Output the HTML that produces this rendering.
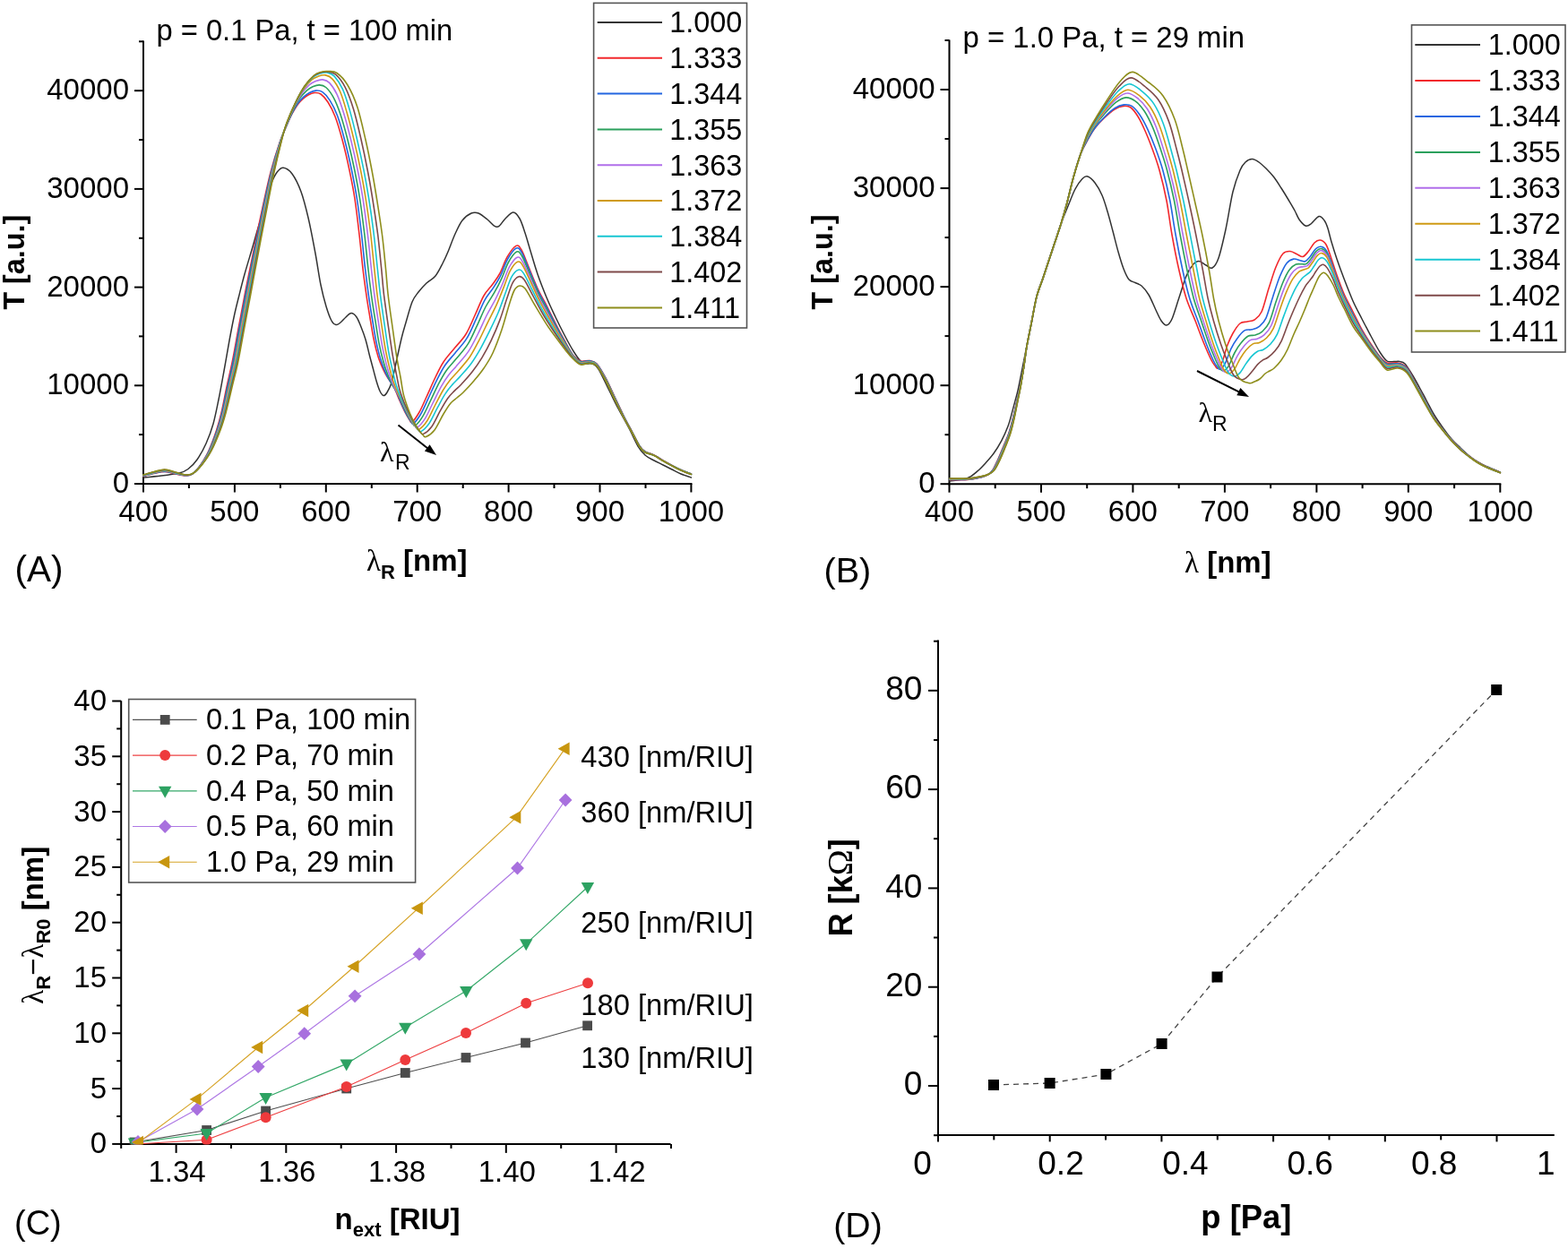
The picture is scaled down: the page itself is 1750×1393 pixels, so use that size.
<!DOCTYPE html>
<html><head><meta charset="utf-8"><title>Figure</title>
<style>html,body{margin:0;padding:0;background:#fff;}svg{display:block;}</style></head><body>
<svg width="1750" height="1393" viewBox="0 0 1750 1393">
<rect width="1750" height="1393" fill="#fff"/>
<g id="panelA">
<g stroke="#000" stroke-width="2" fill="none" stroke-linecap="butt">
<path d="M160,45.5 V541"/>
<path d="M159,540 H772.4"/>
<path d="M150,540 H160"/>
<path d="M155,485.1 H160"/>
<path d="M150,430.3 H160"/>
<path d="M155,375.4 H160"/>
<path d="M150,320.6 H160"/>
<path d="M155,265.8 H160"/>
<path d="M150,210.9 H160"/>
<path d="M155,156.1 H160"/>
<path d="M150,101.2 H160"/>
<path d="M155,46.3 H160"/>
<path d="M160,540 V549.5"/>
<path d="M210.9,540 V545"/>
<path d="M261.9,540 V549.5"/>
<path d="M312.9,540 V545"/>
<path d="M363.8,540 V549.5"/>
<path d="M414.8,540 V545"/>
<path d="M465.7,540 V549.5"/>
<path d="M516.7,540 V545"/>
<path d="M567.6,540 V549.5"/>
<path d="M618.5,540 V545"/>
<path d="M669.5,540 V549.5"/>
<path d="M720.5,540 V545"/>
<path d="M771.4,540 V549.5"/>
</g>
<text x="144" y="550" font-size="33" text-anchor="end" font-family='"Liberation Sans", Arial, sans-serif'>0</text>
<text x="144" y="440.3" font-size="33" text-anchor="end" font-family='"Liberation Sans", Arial, sans-serif'>10000</text>
<text x="144" y="330.6" font-size="33" text-anchor="end" font-family='"Liberation Sans", Arial, sans-serif'>20000</text>
<text x="144" y="220.9" font-size="33" text-anchor="end" font-family='"Liberation Sans", Arial, sans-serif'>30000</text>
<text x="144" y="111.2" font-size="33" text-anchor="end" font-family='"Liberation Sans", Arial, sans-serif'>40000</text>
<text x="160" y="582" font-size="33" text-anchor="middle" font-family='"Liberation Sans", Arial, sans-serif'>400</text>
<text x="261.9" y="582" font-size="33" text-anchor="middle" font-family='"Liberation Sans", Arial, sans-serif'>500</text>
<text x="363.8" y="582" font-size="33" text-anchor="middle" font-family='"Liberation Sans", Arial, sans-serif'>600</text>
<text x="465.7" y="582" font-size="33" text-anchor="middle" font-family='"Liberation Sans", Arial, sans-serif'>700</text>
<text x="567.6" y="582" font-size="33" text-anchor="middle" font-family='"Liberation Sans", Arial, sans-serif'>800</text>
<text x="669.5" y="582" font-size="33" text-anchor="middle" font-family='"Liberation Sans", Arial, sans-serif'>900</text>
<text x="771.4" y="582" font-size="33" text-anchor="middle" font-family='"Liberation Sans", Arial, sans-serif'>1000</text>
<g clip-path="none">
<path d="M160,533 C163.3,532.7 173.3,531.8 180,531 C186.7,530.2 195,529.2 200,528 C205,526.8 206.7,526 210,523.5 C213.3,521 216.7,517.8 220,513 C223.3,508.2 227,501.7 230,495 C233,488.3 235.7,481.2 238,473 C240.3,464.8 242,455.8 244,446 C246,436.2 248,425 250,414 C252,403 254.1,390.3 256,380 C257.9,369.7 259.7,360.3 261.5,352 C263.3,343.7 264.9,337.7 266.8,330 C268.7,322.3 270.5,314.9 273,306 C275.5,297.1 279.1,285.4 281.7,276.5 C284.3,267.6 286.3,259.9 288.6,252.4 C290.9,244.9 293.2,239.4 295.5,231.7 C297.8,224 300.1,212.6 302.4,206 C304.7,199.4 307,195.1 309.3,192 C311.6,188.9 313.4,186.9 316.2,187.2 C319,187.5 322.7,189.5 326,194 C329.3,198.5 333,205.8 336,214 C339,222.2 341.3,231.5 344,243 C346.7,254.5 349.7,270.5 352,283 C354.3,295.5 356,308.2 358,318 C360,327.8 362,335.3 364,342 C366,348.7 368.2,354.6 370,358 C371.8,361.4 373.3,362.2 375,362.5 C376.7,362.8 378.2,361.4 380,360 C381.8,358.6 384,355.8 386,354 C388,352.2 390,349.5 392,349.5 C394,349.5 396.2,351.4 398,354 C399.8,356.6 401.3,360.8 403,365 C404.7,369.2 406.5,374 408,379 C409.5,384 410.7,389.8 412,395 C413.3,400.2 414.7,405 416,410 C417.3,415 418.7,420.6 420,425 C421.3,429.4 422.7,433.8 424,436.5 C425.3,439.2 426.7,441.2 428,441.5 C429.3,441.8 430.5,440.4 432,438 C433.5,435.6 435.3,432.5 437,427 C438.7,421.5 440.2,413.2 442,405 C443.8,396.8 446.2,385.5 448,378 C449.8,370.5 451,366.8 453,360 C455,353.2 457.7,342.7 460,337 C462.3,331.3 464.3,329.5 467,326 C469.7,322.5 472.8,319 476,316 C479.2,313 483,311.7 486,308 C489,304.3 491.7,298.5 494,294 C496.3,289.5 497.7,286.5 500,281 C502.3,275.5 505.3,266.8 508,261 C510.7,255.2 513,249.8 516,246 C519,242.2 523,239.3 526,238 C529,236.7 531,236.8 534,238 C537,239.2 541,242.6 544,245 C547,247.4 549.8,251.2 552,252.4 C554.2,253.6 555,253.8 557,252.4 C559,251 561.3,246.6 564,244 C566.7,241.4 570.3,237 573,237 C575.7,237 577.8,240.2 580,244 C582.2,247.8 584,254 586,260 C588,266 589.7,272.3 592,280 C594.3,287.7 597,297.3 600,306 C603,314.7 606.7,324 610,332 C613.3,340 616.7,347 620,354 C623.3,361 626.7,367.7 630,374 C633.3,380.3 637,387.2 640,392 C643,396.8 645.5,400.7 648,403 C650.5,405.3 652.8,405.5 655,406 C657.2,406.5 658.8,405 661,406 C663.2,407 664.8,407 668,412 C671.2,417 676.3,428.7 680,436 C683.7,443.3 686.3,449 690,456 C693.7,463 698.3,471 702,478 C705.7,485 709,493 712,498 C715,503 717,505.3 720,508 C723,510.7 726.7,512.2 730,514 C733.3,515.8 736.7,517.3 740,519 C743.3,520.7 746.7,522.3 750,524 C753.3,525.7 756.4,527.5 760,529 C763.6,530.5 769.5,532.3 771.4,533" fill="none" stroke="#333333" stroke-width="1.5" stroke-linejoin="round" stroke-linecap="round"/>
<path d="M160,531.5 C162,531 168,529.3 172,528.5 C176,527.7 180,526.4 184,526.5 C188,526.6 192,528.2 196,529 C200,529.8 204.8,531.1 208,531 C211.2,530.9 212.8,530.7 215.5,528.5 C218.2,526.3 221.6,522.2 224.5,518 C227.4,513.8 230.1,509.3 233,503 C235.9,496.7 239.4,487 241.7,480 C244,473 245.1,469 247,461 C248.9,453 251,441.3 253,432 C255,422.7 256.9,415.3 259,405 C261.1,394.7 263.2,382.5 265.5,370 C267.8,357.5 270.8,341.7 273,330 C275.2,318.3 276.9,310.3 279,300 C281.1,289.7 283.2,279.3 285.5,268 C287.8,256.7 290.2,244.6 293,232 C295.8,219.4 298.8,204.6 302,192.5 C305.2,180.4 309,168.2 312,159.5 C315,150.8 317.7,145.4 320,140 C322.3,134.6 324,130.8 326,127 C328,123.2 330,119.8 332,117 C334,114.2 336,112.3 338,110.5 C340,108.7 341.8,107.2 344,106 C346.2,104.8 348.7,103.7 351,103.5 C353.3,103.3 355.5,103.2 358,105 C360.5,106.8 363.3,109.8 366,114 C368.7,118.2 371.3,123 374,130 C376.7,137 379.3,146 382,156 C384.7,166 387.7,179 390,190 C392.3,201 394.2,210 396,222 C397.8,234 399.5,249 401,262 C402.5,275 403.7,288.7 405,300 C406.3,311.3 407.7,320.8 409,330 C410.3,339.2 411.7,347 413,355 C414.3,363 415.5,370.8 417,378 C418.5,385.2 420.2,392.2 422,398 C423.8,403.8 426.2,409 428,413 C429.8,417 431,418.7 433,422 C435,425.3 437.8,428.8 440,433 C442.2,437.2 444,442.5 446,447 C448,451.5 450.2,456.4 452,460 C453.8,463.6 455.7,466.7 457,468.5 C458.3,470.3 458.2,472.4 460,471 C461.8,469.6 465.3,464.7 468,460 C470.7,455.3 473,449.5 476,443 C479,436.5 482.8,427.5 486,421 C489.2,414.5 491.5,409.3 495,404 C498.5,398.7 502.8,394.2 507,389 C511.2,383.8 516.2,379.2 520,373 C523.8,366.8 526.7,359.2 530,352 C533.3,344.8 536.7,335.8 540,330 C543.3,324.2 547,321.2 550,317 C553,312.8 555.3,310 558,305 C560.7,300 563,292.1 566,287 C569,281.9 573.3,275.7 576,274.4 C578.7,273.1 579.7,275.1 582,279 C584.3,282.9 587,290.8 590,298 C593,305.2 596.7,314.8 600,322 C603.3,329.2 606.7,334.5 610,341 C613.3,347.5 616.7,354.5 620,361 C623.3,367.5 626.7,374 630,380 C633.3,386 637,393.2 640,397 C643,400.8 645,402.1 648,403 C651,403.9 655,402 658,402.5 C661,403 663,402.8 666,406 C669,409.2 672.7,415.8 676,422 C679.3,428.2 682.7,436 686,443 C689.3,450 692.7,457.3 696,464 C699.3,470.7 703,477.3 706,483 C709,488.7 711.7,494.5 714,498 C716.3,501.5 717.3,502.3 720,504 C722.7,505.7 726.7,506.3 730,508 C733.3,509.7 736.7,512.1 740,514 C743.3,515.9 746.7,517.8 750,519.5 C753.3,521.2 756.4,522.9 760,524.5 C763.6,526.1 769.5,528.2 771.4,529" fill="none" stroke="#F2282C" stroke-width="1.6" stroke-linejoin="round" stroke-linecap="round"/>
<path d="M160,531.3 C162,530.8 168,529.1 172,528.2 C176,527.4 180,526.1 184,526.1 C188,526.2 192,527.9 196,528.7 C200,529.5 204.7,530.9 208,530.9 C211.3,530.8 212.8,530.6 215.6,528.4 C218.4,526.3 221.7,522.2 224.7,518 C227.7,513.8 230.5,509.3 233.4,503 C236.4,496.7 239.9,487 242.3,480 C244.7,473 245.8,469 247.7,461 C249.6,453 251.8,441.3 253.9,432 C255.9,422.7 257.8,415.3 259.9,405 C262,394.7 264.1,382.5 266.4,370 C268.8,357.5 271.7,341.7 273.9,330 C276.2,318.3 277.8,310.3 279.9,300 C281.9,289.7 284,279.3 286.3,268 C288.6,256.7 291,244.6 293.7,232 C296.4,219.4 299.5,204.5 302.6,192.4 C305.7,180.3 309.4,168.1 312.3,159.3 C315.2,150.5 317.6,145.2 320,139.6 C322.4,134 324.3,129.8 326.4,125.7 C328.5,121.6 330.7,117.9 332.8,114.9 C334.9,111.9 337.1,109.8 339.2,107.9 C341.3,106 343.2,104.6 345.4,103.5 C347.6,102.3 350.1,101.2 352.5,101.1 C354.9,101 357.2,100.8 359.8,102.7 C362.4,104.5 365.4,107.7 368.2,112.1 C371,116.5 373.8,121.7 376.5,129 C379.2,136.3 381.9,145.8 384.6,156 C387.3,166.2 390.2,179 392.5,190 C394.8,201 396.6,210 398.4,222 C400.3,234 402,249 403.6,262 C405.1,275 406.2,288.7 407.6,300 C408.9,311.3 410.1,320.5 411.4,329.8 C412.7,339.1 414.1,347.6 415.5,356 C416.9,364.4 418.1,372.8 419.6,380.2 C421.1,387.6 422.7,394.4 424.5,400.3 C426.3,406.2 428.4,411.4 430.2,415.6 C432,419.8 433.2,421.8 435.2,425.3 C437.2,428.8 439.9,432.3 442,436.4 C444.1,440.5 446.1,445.8 448,450.1 C449.9,454.4 451.9,458.9 453.7,462.2 C455.4,465.5 457.2,468.5 458.5,470.2 C459.8,471.9 459.7,474 461.6,472.6 C463.4,471.3 467,466.6 469.7,462 C472.4,457.4 474.9,451.2 477.9,444.9 C480.9,438.5 484.6,430 487.7,423.9 C490.8,417.8 493.1,413 496.5,408 C499.9,403 503.9,398.9 508,393.9 C512.1,388.9 517,384 520.8,377.9 C524.7,371.8 527.6,364.3 530.9,357.2 C534.2,350.1 537.5,341.4 540.8,335.3 C544.1,329.3 547.8,325.6 550.8,320.9 C553.8,316.3 556.1,312.8 558.7,307.6 C561.3,302.3 563.6,294.5 566.5,289.4 C569.4,284.3 573.6,278.3 576.2,277.1 C578.9,275.8 579.9,277.9 582.3,281.9 C584.6,285.9 587.4,294 590.5,301.1 C593.5,308.2 597.1,317.6 600.4,324.6 C603.7,331.7 606.9,336.9 610.2,343.2 C613.4,349.5 616.7,356.1 620,362.5 C623.3,368.8 626.9,375.4 630.2,381.3 C633.5,387.1 637,393.7 640,397.4 C643,401.2 645,402.6 648,403.5 C651,404.4 655,402.4 658,402.9 C661,403.4 663,403.1 666,406.4 C669,409.6 672.7,416.2 676,422.4 C679.3,428.6 682.7,436.5 686,443.4 C689.3,450.4 692.7,457.7 696,464.3 C699.3,470.9 703,477.5 706,483.1 C709,488.8 711.7,494.6 714,498.1 C716.3,501.6 717.3,502.5 720,504.1 C722.7,505.8 726.7,506.4 730,508.1 C733.3,509.7 736.7,512.2 740,514.1 C743.3,516 746.7,517.8 750,519.6 C753.3,521.3 756.4,523 760,524.6 C763.6,526.2 769.5,528.3 771.4,529.1" fill="none" stroke="#2266E0" stroke-width="1.6" stroke-linejoin="round" stroke-linecap="round"/>
<path d="M160,531.1 C162,530.5 168,528.8 172,527.9 C176,527 180,525.7 184,525.8 C188,525.9 192,527.6 196,528.4 C200,529.2 204.7,530.7 208,530.7 C211.3,530.7 212.8,530.5 215.6,528.4 C218.5,526.2 221.9,522.2 224.9,518 C228,513.8 230.9,509.3 233.9,503 C236.9,496.7 240.5,487 242.9,480 C245.4,473 246.5,469 248.4,461 C250.4,453 252.6,441.3 254.7,432 C256.8,422.7 258.8,415.3 260.9,405 C263,394.7 265,382.5 267.4,370 C269.7,357.5 272.6,341.7 274.9,330 C277.1,318.3 278.7,310.3 280.7,300 C282.8,289.7 284.8,279.3 287.1,268 C289.4,256.7 291.8,244.6 294.4,232 C297.1,219.4 300.1,204.5 303.1,192.4 C306.2,180.2 309.8,167.9 312.6,159.1 C315.4,150.2 317.5,145.3 320,139.1 C322.5,133 325,127.3 327.4,122.3 C329.9,117.4 332.4,113 334.9,109.4 C337.4,105.9 340,103.2 342.3,101.1 C344.7,99 346.7,97.9 349,96.8 C351.4,95.8 353.9,94.8 356.4,94.9 C358.9,95 361.1,95.2 363.7,97.5 C366.4,99.8 369.4,103.7 372.1,108.7 C374.8,113.7 377.3,119.8 379.9,127.6 C382.6,135.5 385.3,145.6 388,156 C390.6,166.4 393.5,179 395.8,190 C398,201 399.8,210 401.6,222 C403.5,234 405.3,249 406.9,262 C408.4,275 409.6,288.7 410.9,300 C412.1,311.3 413.2,320 414.5,329.5 C415.8,339.1 417.3,348.4 418.8,357.3 C420.2,366.2 421.5,375.4 423,383.1 C424.5,390.7 426.1,397.3 427.8,403.3 C429.4,409.3 431.3,414.6 433.1,419 C434.8,423.4 436.1,425.9 438.1,429.6 C440,433.2 442.5,436.7 444.6,440.8 C446.7,444.9 448.7,450.1 450.6,454.1 C452.5,458.2 454.3,462 455.9,465.1 C457.6,468.1 459.2,470.8 460.4,472.4 C461.7,474 461.7,476.1 463.6,474.8 C465.5,473.5 469.1,469.2 471.9,464.6 C474.7,460 477.4,453.5 480.4,447.4 C483.4,441.2 486.9,433.4 489.9,427.7 C492.9,422 495.2,417.8 498.4,413.2 C501.7,408.6 505.4,405.1 509.3,400.3 C513.2,395.5 518.2,390.4 522,384.4 C525.8,378.4 528.7,371.2 532.1,364.2 C535.4,357.2 538.7,348.8 542,342.5 C545.3,336.2 548.9,331.6 551.8,326.4 C554.8,321.2 557.2,316.8 559.7,311.2 C562.3,305.7 564.5,298 567.3,293 C570.1,288 574,282.3 576.6,281.1 C579.2,279.9 580.2,282 582.6,286 C585.1,290 588,298.2 591,305.2 C594.1,312.2 597.7,321.2 600.9,328 C604.2,334.8 607.2,339.8 610.4,345.8 C613.6,351.8 616.7,358 620,364.2 C623.3,370.3 627.1,377.1 630.5,382.7 C633.8,388.3 637.1,394.4 640,397.9 C642.9,401.5 645,403.1 648,404 C651,404.9 655,402.9 658,403.4 C661,403.8 663,403.5 666,406.7 C669,410 672.7,416.7 676,422.9 C679.3,429 682.7,436.9 686,443.9 C689.3,450.8 692.7,458 696,464.6 C699.3,471.1 703,477.7 706,483.3 C709,488.9 711.7,494.8 714,498.3 C716.3,501.8 717.3,502.6 720,504.3 C722.7,505.9 726.7,506.5 730,508.1 C733.3,509.8 736.7,512.2 740,514.1 C743.3,516.1 746.7,517.9 750,519.6 C753.3,521.4 756.4,523.1 760,524.6 C763.6,526.2 769.5,528.4 771.4,529.1" fill="none" stroke="#2BA05C" stroke-width="1.6" stroke-linejoin="round" stroke-linecap="round"/>
<path d="M160,530.9 C162,530.3 168,528.5 172,527.6 C176,526.7 180,525.3 184,525.4 C188,525.5 192,527.3 196,528.1 C200,529 204.7,530.5 208,530.6 C211.3,530.6 212.9,530.4 215.7,528.3 C218.6,526.2 222,522.2 225.1,518 C228.2,513.8 231.2,509.3 234.3,503 C237.4,496.7 241.1,487 243.5,480 C246,473 247.1,469 249.1,461 C251.1,453 253.5,441.3 255.6,432 C257.7,422.7 259.7,415.3 261.8,405 C263.9,394.7 266,382.5 268.3,370 C270.6,357.5 273.6,341.7 275.8,330 C278,318.3 279.6,310.3 281.6,300 C283.6,289.7 285.6,279.3 287.9,268 C290.1,256.7 292.5,244.6 295.1,232 C297.8,219.4 300.8,204.5 303.7,192.3 C306.7,180.1 310.1,167.8 312.9,158.9 C315.6,149.9 317.4,145.3 320,138.7 C322.6,132.1 325.6,124.8 328.4,119.1 C331.3,113.3 334.1,108.3 336.9,104.2 C339.7,100.1 342.7,96.9 345.3,94.6 C347.9,92.3 350.1,91.4 352.5,90.4 C355,89.5 357.6,88.6 360.1,88.9 C362.7,89.3 365,89.7 367.6,92.4 C370.3,95.2 373.4,99.7 376.1,105.3 C378.7,110.9 381,117.7 383.6,126.2 C386.2,134.6 389,145.4 391.6,156 C394.2,166.6 397,179 399.2,190 C401.5,201 403.2,210 405.1,222 C406.9,234 408.9,249 410.4,262 C412,275 413.2,288.8 414.4,300 C415.7,311.2 416.6,319.5 417.9,329.3 C419.2,339 420.8,349.2 422.2,358.7 C423.7,368.2 425.1,378.2 426.6,386.1 C428.1,394.1 429.7,400.4 431.2,406.5 C432.8,412.6 434.5,418 436.1,422.6 C437.8,427.2 439.3,430.4 441.1,434.2 C443,438 445.4,441.5 447.4,445.6 C449.4,449.6 451.6,454.7 453.4,458.5 C455.2,462.2 456.8,465.4 458.3,468.1 C459.8,470.9 461.3,473.3 462.6,474.8 C463.8,476.3 463.8,478.3 465.7,477.1 C467.7,475.9 471.4,471.9 474.3,467.4 C477.2,462.9 480,456 483,450 C486,444.1 489.4,436.9 492.3,431.7 C495.2,426.5 497.5,422.9 500.6,418.8 C503.6,414.7 506.9,411.7 510.7,407.1 C514.5,402.6 519.4,397.4 523.2,391.6 C527,385.9 530.1,379.2 533.5,372.5 C536.8,365.8 540.1,358 543.4,351.5 C546.7,345 550.3,339.4 553.2,333.5 C556.2,327.7 558.6,322.2 561.1,316.3 C563.7,310.4 565.7,303 568.4,298.2 C571.1,293.3 574.7,288.4 577.2,287.3 C579.6,286.3 580.8,288 583.2,292 C585.7,295.9 588.8,304.1 591.9,310.8 C594.9,317.5 598.5,326 601.6,332.4 C604.8,338.7 607.6,343.4 610.7,349 C613.7,354.7 616.7,360.3 620,366.2 C623.3,372.1 627.4,378.9 630.7,384.3 C634,389.7 637.1,395.1 640,398.5 C642.9,401.8 645,403.6 648,404.5 C651,405.4 655,403.4 658,403.8 C661,404.2 663,403.8 666,407.1 C669,410.3 672.7,417.1 676,423.3 C679.3,429.5 682.7,437.4 686,444.3 C689.3,451.2 692.7,458.3 696,464.9 C699.3,471.4 703,477.8 706,483.4 C709,489 711.7,494.9 714,498.4 C716.3,501.9 717.3,502.8 720,504.4 C722.7,506.1 726.7,506.6 730,508.2 C733.3,509.8 736.7,512.3 740,514.2 C743.3,516.1 746.7,518 750,519.7 C753.3,521.5 756.4,523.1 760,524.7 C763.6,526.3 769.5,528.5 771.4,529.2" fill="none" stroke="#B06EEA" stroke-width="1.6" stroke-linejoin="round" stroke-linecap="round"/>
<path d="M160,530.6 C162,530.1 168,528.3 172,527.4 C176,526.4 180,525 184,525.1 C188,525.2 192,527 196,527.9 C200,528.8 204.7,530.4 208,530.4 C211.3,530.5 212.9,530.3 215.8,528.2 C218.7,526.1 222.2,522.2 225.4,518 C228.5,513.8 231.6,509.3 234.7,503 C237.8,496.7 241.6,487 244.2,480 C246.7,473 247.8,469 249.9,461 C251.9,453 254.3,441.3 256.4,432 C258.6,422.7 260.6,415.3 262.7,405 C264.8,394.7 266.9,382.5 269.2,370 C271.5,357.5 274.5,341.7 276.7,330 C278.9,318.3 280.4,310.3 282.4,300 C284.4,289.7 286.4,279.3 288.6,268 C290.9,256.7 293.2,244.6 295.9,232 C298.5,219.4 301.4,204.4 304.3,192.2 C307.2,180 310.5,167.6 313.1,158.6 C315.8,149.7 317.3,145.3 320,138.3 C322.7,131.2 326.2,122.8 329.3,116.3 C332.4,109.9 335.5,104.3 338.6,99.8 C341.7,95.3 345,91.6 347.8,89.2 C350.7,86.7 352.9,86 355.5,85.1 C358.1,84.2 360.7,83.4 363.3,83.9 C365.9,84.4 368.2,85 370.9,88.1 C373.7,91.2 376.9,96.1 379.6,102.3 C382.3,108.4 384.4,115.9 386.9,124.8 C389.5,133.8 392.4,145.1 395,156 C397.6,166.9 400.3,179 402.5,190 C404.7,201 406.4,210 408.2,222 C410.1,234 412.2,249 413.8,262 C415.3,275 416.5,288.8 417.8,300 C419,311.2 419.7,319 421,329 C422.3,339 424,350 425.5,360 C427,370 428.5,380.8 430,389 C431.5,397.2 433,403.3 434.5,409.5 C436,415.7 437.4,421.2 439,426 C440.6,430.8 442.2,434.5 444,438.5 C445.8,442.5 448,446 450,450 C452,454 454.2,459 456,462.5 C457.8,466 459.1,468.6 460.5,471 C461.9,473.4 463.3,475.6 464.5,477 C465.7,478.4 465.8,480.4 467.8,479.2 C469.8,478.1 473.5,474.5 476.5,470 C479.5,465.5 482.5,458.2 485.5,452.5 C488.5,446.8 491.7,440.2 494.5,435.5 C497.3,430.8 499.6,427.7 502.5,424 C505.4,420.3 508.4,417.8 512,413.5 C515.6,409.2 520.6,403.9 524.4,398.3 C528.2,392.6 531.3,386.3 534.7,379.8 C538.1,373.3 541.3,366 544.6,359.3 C547.9,352.6 551.5,346.1 554.4,339.6 C557.4,333.1 559.8,326.6 562.3,320.4 C564.8,314.2 566.8,307 569.3,302.3 C571.9,297.6 575.2,293.2 577.6,292.2 C580,291.3 581.2,292.9 583.6,296.7 C586.1,300.6 589.5,308.9 592.5,315.4 C595.6,322 599.1,329.9 602.2,336 C605.2,342.1 607.9,346.5 610.9,351.8 C613.9,357.1 616.7,362.3 620,367.9 C623.3,373.6 627.6,380.5 631,385.7 C634.3,390.9 637.2,395.7 640,398.9 C642.8,402.2 645,404.1 648,405 C651,405.9 655,403.8 658,404.2 C661,404.6 663,404.2 666,407.4 C669,410.7 672.7,417.5 676,423.7 C679.3,429.9 682.7,437.8 686,444.7 C689.3,451.6 692.7,458.7 696,465.1 C699.3,471.6 703,478 706,483.6 C709,489.1 711.7,495.1 714,498.6 C716.3,502.1 717.3,503 720,504.6 C722.7,506.2 726.7,506.7 730,508.3 C733.3,509.9 736.7,512.4 740,514.3 C743.3,516.2 746.7,518 750,519.8 C753.3,521.5 756.4,523.2 760,524.8 C763.6,526.4 769.5,528.5 771.4,529.3" fill="none" stroke="#CF9A14" stroke-width="1.6" stroke-linejoin="round" stroke-linecap="round"/>
<path d="M160,530.4 C162,529.9 168,528 172,527.1 C176,526.1 180,524.6 184,524.7 C188,524.8 192,526.6 196,527.6 C200,528.5 204.7,530.2 208,530.3 C211.3,530.4 212.9,530.2 215.9,528.1 C218.8,526.1 222.4,522.2 225.6,518 C228.8,513.8 231.9,509.3 235.1,503 C238.3,496.7 242.2,487 244.8,480 C247.3,473 248.5,469 250.6,461 C252.7,453 255.1,441.3 257.3,432 C259.5,422.7 261.5,415.3 263.6,405 C265.8,394.7 267.8,382.5 270.1,370 C272.5,357.5 275.5,341.7 277.6,330 C279.8,318.3 281.3,310.3 283.3,300 C285.2,289.7 287.2,279.3 289.4,268 C291.6,256.7 294,244.6 296.6,232 C299.1,219.4 302,204.4 304.9,192.1 C307.7,179.9 310.9,167.5 313.4,158.4 C316,149.4 317.3,145.1 320,137.9 C322.7,130.6 326.5,121.5 329.8,114.8 C333,108 336.3,102 339.5,97.3 C342.8,92.5 346.3,88.6 349.3,86.1 C352.2,83.5 354.5,82.9 357.2,82 C359.8,81.2 362.4,80.5 365.1,81 C367.8,81.6 370.3,82 373.2,85.1 C376.1,88.3 379.6,93.4 382.5,99.7 C385.4,106.1 387.7,114.1 390.4,123.4 C393.1,132.8 396,144.9 398.6,156 C401.2,167.1 403.8,179 406,190 C408.2,201 409.8,210 411.7,222 C413.6,234 415.7,249 417.3,262 C418.9,275 420.1,288.9 421.3,300 C422.5,311.1 423.1,318.5 424.4,328.7 C425.6,339 427.5,350.8 429,361.4 C430.5,372 432.1,383.5 433.6,392.1 C435.1,400.6 436.6,406.5 438,412.7 C439.4,419 440.6,424.6 442.1,429.6 C443.6,434.7 445.3,438.9 447.1,443.1 C448.9,447.3 450.8,450.8 452.8,454.8 C454.8,458.7 457.1,463.6 458.8,466.8 C460.5,470.1 461.6,472 462.9,474.1 C464.2,476.2 465.4,478.1 466.6,479.4 C467.8,480.6 467.9,482.7 469.9,481.6 C472,480.5 475.8,477.2 478.9,472.8 C481.9,468.4 485.2,460.7 488.2,455.2 C491.2,449.6 494.1,443.8 496.9,439.6 C499.6,435.3 501.8,432.8 504.6,429.6 C507.4,426.4 509.9,424.3 513.4,420.4 C516.9,416.4 521.9,411.2 525.7,406 C529.5,400.8 532.9,395.1 536.3,389.1 C539.7,383.1 542.9,376.6 546.2,369.9 C549.5,363.1 553.2,355.6 556.2,348.5 C559.2,341.3 561.7,333.5 564.1,327 C566.6,320.5 568.5,313.7 570.8,309.4 C573.2,305.1 576.1,301.9 578.4,301.2 C580.7,300.4 581.9,301.4 584.4,305.1 C587,308.8 590.6,317.1 593.7,323.2 C596.8,329.3 600.2,336.4 603.1,341.9 C606,347.4 608.4,351.3 611.3,356.1 C614.1,360.9 616.7,365.3 620,370.6 C623.3,375.8 628,382.9 631.3,387.7 C634.6,392.6 637.2,396.6 640,399.6 C642.8,402.6 645,404.8 648,405.6 C651,406.5 655,404.3 658,404.6 C661,405 663,404.5 666,407.8 C669,411 672.7,417.9 676,424.1 C679.3,430.4 682.7,438.3 686,445.1 C689.3,452 692.7,459 696,465.4 C699.3,471.9 703,478.2 706,483.7 C709,489.3 711.7,495.2 714,498.7 C716.3,502.2 717.3,503.1 720,504.7 C722.7,506.3 726.7,506.8 730,508.4 C733.3,510 736.7,512.4 740,514.4 C743.3,516.3 746.7,518.1 750,519.9 C753.3,521.6 756.4,523.3 760,524.9 C763.6,526.4 769.5,528.6 771.4,529.4" fill="none" stroke="#18C6D2" stroke-width="1.6" stroke-linejoin="round" stroke-linecap="round"/>
<path d="M160,530.2 C162,529.6 168,527.8 172,526.8 C176,525.8 180,524.3 184,524.4 C188,524.4 192,526.3 196,527.3 C200,528.2 204.7,530 208,530.1 C211.3,530.3 213,530.1 215.9,528.1 C218.9,526 222.5,522.2 225.8,518 C229.1,513.8 232.3,509.3 235.6,503 C238.8,496.7 242.8,487 245.4,480 C248,473 249.2,469 251.3,461 C253.4,453 255.9,441.3 258.1,432 C260.4,422.7 262.4,415.3 264.6,405 C266.7,394.7 268.7,382.5 271.1,370 C273.4,357.5 276.4,341.7 278.6,330 C280.8,318.3 282.2,310.3 284.1,300 C286.1,289.7 288,279.3 290.2,268 C292.4,256.7 294.8,244.7 297.3,232 C299.8,219.3 302.7,204.4 305.4,192.1 C308.2,179.8 311.3,167.3 313.7,158.2 C316.1,149.1 317.3,144.8 320,137.4 C322.7,130.1 326.6,121.1 329.9,114.3 C333.2,107.4 336.5,101.3 339.8,96.4 C343.1,91.5 346.8,87.6 349.8,85 C352.7,82.5 355.1,81.8 357.7,81 C360.4,80.2 362.9,79.7 365.7,80.1 C368.5,80.4 371.4,80.3 374.7,83.2 C377.9,86.1 381.9,91 385.2,97.4 C388.5,103.8 391.5,112 394.5,121.8 C397.5,131.6 400.4,144.6 403.1,156 C405.7,167.4 408.1,179 410.2,190 C412.4,201 413.9,210 415.8,222 C417.7,234 420,249 421.7,262 C423.3,275 424.5,288.9 425.7,300 C426.8,311.1 427.2,317.9 428.4,328.4 C429.7,338.9 431.6,351.9 433.2,363.1 C434.9,374.3 436.6,386.9 438.1,395.8 C439.6,404.7 441,410.3 442.2,416.6 C443.5,423 444.4,428.7 445.8,434.1 C447.2,439.4 449.1,444.3 450.8,448.7 C452.6,453.1 454.3,456.6 456.2,460.5 C458.1,464.4 460.6,469.2 462.2,472.1 C463.8,475 464.6,476.1 465.8,477.8 C466.9,479.5 468,481.2 469.1,482.3 C470.3,483.4 470.5,485.4 472.6,484.4 C474.7,483.4 478.6,480.5 481.8,476.2 C484.9,471.9 488.4,463.7 491.4,458.4 C494.4,453.1 497.1,448.2 499.8,444.5 C502.4,440.8 504.6,439 507.1,436.4 C509.7,433.8 511.8,432.3 515.1,428.7 C518.4,425.1 523.4,419.8 527.2,414.8 C531.1,409.9 534.5,404.8 538,399.1 C541.4,393.4 544.6,387.7 547.9,380.7 C551.2,373.7 554.9,365.1 557.9,357.1 C560.9,349.2 563.4,340 565.8,333.1 C568.2,326.2 570,319.8 572.2,315.7 C574.4,311.6 576.9,309.3 579.1,308.7 C581.2,308.2 582.5,308.7 585.1,312.3 C587.7,315.8 591.5,324.1 594.7,329.9 C597.8,335.7 601.1,342 603.9,347 C606.7,352 608.9,355.5 611.6,359.8 C614.3,364.1 616.7,367.9 620,372.8 C623.3,377.8 628.3,385 631.6,389.5 C634.9,394.1 637.3,397.4 640,400.2 C642.7,403 645,405.4 648,406.2 C651,407 655,404.7 658,405.1 C661,405.4 663,404.9 666,408.1 C669,411.4 672.7,418.3 676,424.6 C679.3,430.8 682.7,438.7 686,445.6 C689.3,452.4 692.7,459.3 696,465.7 C699.3,472.1 703,478.3 706,483.9 C709,489.4 711.7,495.4 714,498.9 C716.3,502.4 717.3,503.3 720,504.9 C722.7,506.5 726.7,506.8 730,508.4 C733.3,510 736.7,512.5 740,514.4 C743.3,516.3 746.7,518.2 750,519.9 C753.3,521.7 756.4,523.3 760,524.9 C763.6,526.5 769.5,528.7 771.4,529.4" fill="none" stroke="#7F4A4A" stroke-width="1.6" stroke-linejoin="round" stroke-linecap="round"/>
<path d="M160,530 C162,529.4 168,527.5 172,526.5 C176,525.5 180,523.9 184,524 C188,524.1 192,526 196,527 C200,528 204.7,529.8 208,530 C211.3,530.2 213,530 216,528 C219,526 222.7,522.2 226,518 C229.3,513.8 232.7,509.3 236,503 C239.3,496.7 243.3,487 246,480 C248.7,473 249.8,469 252,461 C254.2,453 256.8,441.3 259,432 C261.2,422.7 263.3,415.3 265.5,405 C267.7,394.7 269.7,382.5 272,370 C274.3,357.5 277.3,341.7 279.5,330 C281.7,318.3 283.1,310.3 285,300 C286.9,289.7 288.8,279.3 291,268 C293.2,256.7 295.5,244.7 298,232 C300.5,219.3 303.3,204.3 306,192 C308.7,179.7 311.7,167.2 314,158 C316.3,148.8 317.3,144.3 320,137 C322.7,129.7 326.7,120.8 330,114 C333.3,107.2 336.7,100.9 340,96 C343.3,91.1 347,87.1 350,84.5 C353,81.9 355.3,81.3 358,80.5 C360.7,79.7 363,79.4 366,79.6 C369,79.8 372.3,78.9 376,81.5 C379.7,84.1 384.2,88.6 388,95 C391.8,101.4 395.7,109.8 399,120 C402.3,130.2 405.3,144.3 408,156 C410.7,167.7 412.9,179 415,190 C417.1,201 418.6,210 420.5,222 C422.4,234 424.8,249 426.5,262 C428.2,275 429.4,289 430.5,300 C431.6,311 431.8,317.2 433,328 C434.2,338.8 436.3,353 438,365 C439.7,377 441.5,390.7 443,400 C444.5,409.3 445.8,414.5 447,421 C448.2,427.5 448.7,433.3 450,439 C451.3,444.7 453.3,450.3 455,455 C456.7,459.7 458.2,463.2 460,467 C461.8,470.8 464.5,475.5 466,478 C467.5,480.5 468,480.8 469,482 C470,483.2 470.9,484.6 472,485.5 C473.1,486.4 473.3,488.4 475.5,487.5 C477.7,486.6 481.8,484.2 485,480 C488.2,475.8 492,467 495,462 C498,457 500.5,453 503,450 C505.5,447 507.7,446 510,444 C512.3,442 513.8,441.2 517,438 C520.2,434.8 525.2,429.5 529,425 C532.8,420.5 536.5,416.2 540,411 C543.5,405.8 546.7,401.2 550,394 C553.3,386.8 557,376.8 560,368 C563,359.2 565.7,348.3 568,341 C570.3,333.7 572,327.7 574,324 C576,320.3 578,319.3 580,319 C582,318.7 583.3,318.7 586,322 C588.7,325.3 592.8,333.7 596,339 C599.2,344.3 602.3,349.7 605,354 C607.7,358.3 609.5,361.3 612,365 C614.5,368.7 616.7,371.5 620,376 C623.3,380.5 628.7,387.8 632,392 C635.3,396.2 637.3,398.5 640,401 C642.7,403.5 645,406.2 648,407 C651,407.8 655,405.2 658,405.5 C661,405.8 663,405.2 666,408.5 C669,411.8 672.7,418.8 676,425 C679.3,431.2 682.7,439.2 686,446 C689.3,452.8 692.7,459.7 696,466 C699.3,472.3 703,478.5 706,484 C709,489.5 711.7,495.5 714,499 C716.3,502.5 717.3,503.4 720,505 C722.7,506.6 726.7,506.9 730,508.5 C733.3,510.1 736.7,512.6 740,514.5 C743.3,516.4 746.7,518.2 750,520 C753.3,521.8 756.4,523.4 760,525 C763.6,526.6 769.5,528.8 771.4,529.5" fill="none" stroke="#8E8E1C" stroke-width="1.6" stroke-linejoin="round" stroke-linecap="round"/>
</g>
<rect x="662.6" y="3.4" width="170.9" height="362.6" fill="#fff" stroke="#555" stroke-width="1.6"/>
<path d="M666.7,25 H739" stroke="#333333" stroke-width="2"/>
<text x="747.3" y="36.4" font-size="32.4" text-anchor="start" font-family='"Liberation Sans", Arial, sans-serif'>1.000</text>
<path d="M666.7,64.8 H739" stroke="#F2282C" stroke-width="2"/>
<text x="747.3" y="76.2" font-size="32.4" text-anchor="start" font-family='"Liberation Sans", Arial, sans-serif'>1.333</text>
<path d="M666.7,104.6 H739" stroke="#2266E0" stroke-width="2"/>
<text x="747.3" y="116" font-size="32.4" text-anchor="start" font-family='"Liberation Sans", Arial, sans-serif'>1.344</text>
<path d="M666.7,144.4 H739" stroke="#2BA05C" stroke-width="2"/>
<text x="747.3" y="155.8" font-size="32.4" text-anchor="start" font-family='"Liberation Sans", Arial, sans-serif'>1.355</text>
<path d="M666.7,184.2 H739" stroke="#B06EEA" stroke-width="2"/>
<text x="747.3" y="195.6" font-size="32.4" text-anchor="start" font-family='"Liberation Sans", Arial, sans-serif'>1.363</text>
<path d="M666.7,224 H739" stroke="#CF9A14" stroke-width="2"/>
<text x="747.3" y="235.4" font-size="32.4" text-anchor="start" font-family='"Liberation Sans", Arial, sans-serif'>1.372</text>
<path d="M666.7,263.8 H739" stroke="#18C6D2" stroke-width="2"/>
<text x="747.3" y="275.2" font-size="32.4" text-anchor="start" font-family='"Liberation Sans", Arial, sans-serif'>1.384</text>
<path d="M666.7,303.6 H739" stroke="#7F4A4A" stroke-width="2"/>
<text x="747.3" y="315" font-size="32.4" text-anchor="start" font-family='"Liberation Sans", Arial, sans-serif'>1.402</text>
<path d="M666.7,343.4 H739" stroke="#8E8E1C" stroke-width="2"/>
<text x="747.3" y="354.8" font-size="32.4" text-anchor="start" font-family='"Liberation Sans", Arial, sans-serif'>1.411</text>
<text x="174.5" y="45.4" font-size="32.7" text-anchor="start" font-family='"Liberation Sans", Arial, sans-serif'>p = 0.1 Pa, t = 100 min</text>
<path d="M444.5,474.5 L478.4,501.2" stroke="#000" stroke-width="2"/>
<path d="M487,508 L473.9,503.6 L479.6,496.3 Z" fill="#000"/>
<text x="424" y="515" font-size="32" font-family='"Liberation Serif", "Times New Roman", serif'>&#955;<tspan font-size="23" dx="1.5" dy="9" font-family='"Liberation Sans", Arial, sans-serif'>R</tspan></text>
<text transform="translate(27,292.7) rotate(-90)" x="0" y="0" font-size="32.3" font-weight="bold" text-anchor="middle" font-family='"Liberation Sans", Arial, sans-serif'>T [a.u.]</text>
<text x="409" y="637" font-size="33" font-family='"Liberation Serif", "Times New Roman", serif'>&#955;<tspan font-size="22" font-weight="bold" dy="8.8" font-family='"Liberation Sans", Arial, sans-serif'>R</tspan><tspan dy="-8.8" font-weight="bold" font-family='"Liberation Sans", Arial, sans-serif'> [nm]</tspan></text>
<text x="16.5" y="649.2" font-size="40.5" text-anchor="start" font-family='"Liberation Sans", Arial, sans-serif'>(A)</text>
</g>
<g id="panelB">
<g stroke="#000" stroke-width="2" fill="none" stroke-linecap="butt">
<path d="M1059.5,44.5 V541.2"/>
<path d="M1058.5,540.2 H1675.3"/>
<path d="M1049.5,540.2 H1059.5"/>
<path d="M1054.5,485.2 H1059.5"/>
<path d="M1049.5,430.2 H1059.5"/>
<path d="M1054.5,375.1 H1059.5"/>
<path d="M1049.5,320.1 H1059.5"/>
<path d="M1054.5,265.1 H1059.5"/>
<path d="M1049.5,210.1 H1059.5"/>
<path d="M1054.5,155 H1059.5"/>
<path d="M1049.5,100 H1059.5"/>
<path d="M1054.5,45 H1059.5"/>
<path d="M1059.5,540.2 V549.7"/>
<path d="M1110.7,540.2 V545.2"/>
<path d="M1162,540.2 V549.7"/>
<path d="M1213.2,540.2 V545.2"/>
<path d="M1264.4,540.2 V549.7"/>
<path d="M1315.7,540.2 V545.2"/>
<path d="M1366.9,540.2 V549.7"/>
<path d="M1418.1,540.2 V545.2"/>
<path d="M1469.4,540.2 V549.7"/>
<path d="M1520.6,540.2 V545.2"/>
<path d="M1571.8,540.2 V549.7"/>
<path d="M1623.1,540.2 V545.2"/>
<path d="M1674.3,540.2 V549.7"/>
</g>
<text x="1043.5" y="550.2" font-size="33" text-anchor="end" font-family='"Liberation Sans", Arial, sans-serif'>0</text>
<text x="1043.5" y="440.2" font-size="33" text-anchor="end" font-family='"Liberation Sans", Arial, sans-serif'>10000</text>
<text x="1043.5" y="330.1" font-size="33" text-anchor="end" font-family='"Liberation Sans", Arial, sans-serif'>20000</text>
<text x="1043.5" y="220.1" font-size="33" text-anchor="end" font-family='"Liberation Sans", Arial, sans-serif'>30000</text>
<text x="1043.5" y="110" font-size="33" text-anchor="end" font-family='"Liberation Sans", Arial, sans-serif'>40000</text>
<text x="1059.5" y="582.3" font-size="33" text-anchor="middle" font-family='"Liberation Sans", Arial, sans-serif'>400</text>
<text x="1162" y="582.3" font-size="33" text-anchor="middle" font-family='"Liberation Sans", Arial, sans-serif'>500</text>
<text x="1264.4" y="582.3" font-size="33" text-anchor="middle" font-family='"Liberation Sans", Arial, sans-serif'>600</text>
<text x="1366.9" y="582.3" font-size="33" text-anchor="middle" font-family='"Liberation Sans", Arial, sans-serif'>700</text>
<text x="1469.4" y="582.3" font-size="33" text-anchor="middle" font-family='"Liberation Sans", Arial, sans-serif'>800</text>
<text x="1571.8" y="582.3" font-size="33" text-anchor="middle" font-family='"Liberation Sans", Arial, sans-serif'>900</text>
<text x="1674.3" y="582.3" font-size="33" text-anchor="middle" font-family='"Liberation Sans", Arial, sans-serif'>1000</text>
<path d="M1060,537 C1063.3,536.4 1074.8,535.4 1080,533.5 C1085.2,531.6 1087.6,528.7 1090.9,525.9 C1094.2,523.1 1096.9,520.2 1099.9,516.9 C1102.9,513.6 1105.9,510.4 1108.9,506.2 C1111.9,502 1115.1,496.9 1117.8,491.8 C1120.5,486.7 1123,480.9 1125,475.7 C1127,470.5 1128.2,465.2 1129.5,460.4 C1130.8,455.6 1132,451.1 1133.1,446.9 C1134.2,442.7 1135,440.5 1136.2,435 C1137.4,429.5 1138.9,421.8 1140.5,413.7 C1142.1,405.6 1144.1,395.5 1145.9,386.4 C1147.7,377.3 1149.6,368.2 1151.4,359.1 C1153.2,350 1154.8,339.8 1156.8,331.9 C1158.8,323.9 1161.4,318.2 1163.7,311.4 C1166,304.6 1168.2,297.7 1170.5,290.9 C1172.8,284.1 1175,277.3 1177.3,270.5 C1179.6,263.7 1181.6,256.8 1184.1,250 C1186.5,243.2 1189.3,236.5 1192,230 C1194.7,223.5 1197.3,216.1 1200,211 C1202.7,205.9 1205.7,201.8 1208,199.5 C1210.3,197.2 1211.7,196.2 1214,197 C1216.3,197.8 1219.3,200.5 1222,204 C1224.7,207.5 1227.7,212.7 1230,218 C1232.3,223.3 1234,229.3 1236,236 C1238,242.7 1240,250.5 1242,258 C1244,265.5 1246,274 1248,281 C1250,288 1252,294.8 1254,300 C1256,305.2 1257.8,309.4 1260,312 C1262.2,314.6 1264.7,314.3 1267,315.5 C1269.3,316.7 1271.5,316.8 1274,319 C1276.5,321.2 1279.3,324.5 1282,329 C1284.7,333.5 1287.7,341.2 1290,346 C1292.3,350.8 1294,355.2 1296,358 C1298,360.8 1300,363.3 1302,363 C1304,362.7 1305.7,361.2 1308,356 C1310.3,350.8 1313.3,340 1316,332 C1318.7,324 1321.5,314 1324,308 C1326.5,302 1328.7,298.7 1331,296 C1333.3,293.3 1335.5,291.6 1338,291.6 C1340.5,291.6 1343.5,294.8 1346,296 C1348.5,297.2 1350.7,300.3 1353,299 C1355.3,297.7 1357.5,295.2 1360,288 C1362.5,280.8 1365.3,268.3 1368,256 C1370.7,243.7 1373.3,225 1376,214 C1378.7,203 1381.7,195.5 1384,190 C1386.3,184.5 1387.8,183.1 1390,181 C1392.2,178.9 1395,177.5 1397.5,177.5 C1400,177.5 1402.4,179.2 1405,181 C1407.6,182.8 1410.2,185.2 1413,188 C1415.8,190.8 1419.2,194.3 1422,198 C1424.8,201.7 1427.3,205.8 1430,210 C1432.7,214.2 1435.5,218.8 1438,223 C1440.5,227.2 1443,231.3 1445,235 C1447,238.7 1448,242.2 1450,245 C1452,247.8 1454.8,251.2 1457,252 C1459.2,252.8 1460.5,251.8 1463,250 C1465.5,248.2 1469.5,242.2 1472,241.5 C1474.5,240.8 1476.3,243.8 1478,246 C1479.7,248.2 1480.7,251 1482,255 C1483.3,259 1484.3,264.3 1486,270 C1487.7,275.7 1489.7,282.2 1492,289 C1494.3,295.8 1497,303.2 1500,311 C1503,318.8 1506.7,328.5 1510,336 C1513.3,343.5 1516.7,349.5 1520,356 C1523.3,362.5 1526.7,368.8 1530,375 C1533.3,381.2 1537,388.3 1540,393 C1543,397.7 1545.3,401.2 1548,403 C1550.7,404.8 1553.7,403.4 1556,403.5 C1558.3,403.6 1560,403.1 1562,403.5 C1564,403.9 1565.7,403.6 1568,406 C1570.3,408.4 1573.3,413.7 1576,418 C1578.7,422.3 1581.3,427.2 1584,432 C1586.7,436.8 1589.3,442 1592,447 C1594.7,452 1597,457 1600,462 C1603,467 1606.7,472.3 1610,477 C1613.3,481.7 1616.7,486.2 1620,490 C1623.3,493.8 1626.7,496.8 1630,500 C1633.3,503.2 1636.7,506.3 1640,509 C1643.3,511.7 1646.7,514 1650,516 C1653.3,518 1656,519.2 1660,521 C1664,522.8 1671.9,526 1674.3,527" fill="none" stroke="#333333" stroke-width="1.5" stroke-linejoin="round" stroke-linecap="round"/>
<path d="M1060,535.5 C1063.3,535.5 1074,536 1080,535.5 C1086,535 1092.2,533.5 1096,532.5 C1099.8,531.5 1101,530.8 1103,529.5 C1105,528.2 1106.2,527.2 1108,524.5 C1109.8,521.8 1111.5,517.8 1113.5,513.5 C1115.5,509.2 1117.8,503.4 1119.8,498.5 C1121.8,493.6 1123.9,489.4 1125.7,484 C1127.5,478.6 1129.2,472 1130.7,466 C1132.2,460 1133.4,454 1134.8,448 C1136.2,442 1137.6,436.3 1138.9,430 C1140.2,423.7 1141.4,417.3 1142.6,410 C1143.8,402.7 1144.5,394.9 1146,386.4 C1147.5,377.9 1149.6,368.2 1151.4,359.1 C1153.2,350 1154.8,339.8 1156.8,331.9 C1158.8,323.9 1161.4,318.2 1163.7,311.4 C1166,304.6 1168.2,297.7 1170.5,290.9 C1172.8,284.1 1175,277.3 1177.3,270.5 C1179.6,263.7 1181.8,257.4 1184.1,250 C1186.4,242.6 1188.7,234.7 1191,226 C1193.3,217.3 1195.5,207 1198,198 C1200.5,189 1203.3,179 1206,172 C1208.7,165 1211.3,160.8 1214,156 C1216.7,151.2 1219,147 1222,143 C1225,139 1228.3,135.5 1232,132 C1235.7,128.5 1240.3,124.3 1244,122 C1247.7,119.7 1251,118.7 1254,118.4 C1257,118.1 1259.3,118.1 1262,120 C1264.7,121.9 1267.3,125.7 1270,130 C1272.7,134.3 1275.3,140 1278,146 C1280.7,152 1283.3,158.7 1286,166 C1288.7,173.3 1291.3,180.3 1294,190 C1296.7,199.7 1299.7,212 1302,224 C1304.3,236 1305.7,249 1308,262 C1310.3,275 1313.3,290.2 1316,302 C1318.7,313.8 1321,323.7 1324,333 C1327,342.3 1330.7,349.5 1334,358 C1337.3,366.5 1341,376.7 1344,384 C1347,391.3 1350,398 1352,402 C1354,406 1354.8,406.5 1356,408 C1357.2,409.5 1357.7,411.7 1359,411 C1360.3,410.3 1362.2,408.3 1364,404 C1365.8,399.7 1368,390.3 1370,385 C1372,379.7 1373.7,376 1376,372 C1378.3,368 1381.3,363.2 1384,361 C1386.7,358.8 1389.3,359.7 1392,359 C1394.7,358.3 1397.3,358.8 1400,357 C1402.7,355.2 1405.3,353.8 1408,348 C1410.7,342.2 1413.3,330.3 1416,322 C1418.7,313.7 1421.3,304.5 1424,298 C1426.7,291.5 1429.3,285.9 1432,283 C1434.7,280.1 1437.3,280.3 1440,280.5 C1442.7,280.7 1445.7,283 1448,284 C1450.3,285 1452,287 1454,286.5 C1456,286 1457.8,283.6 1460,281 C1462.2,278.4 1464.8,273.2 1467,271 C1469.2,268.8 1471.3,267.7 1473.5,268 C1475.7,268.3 1477.9,269.5 1480,273 C1482.1,276.5 1484,283.3 1486,289 C1488,294.7 1489.7,300.5 1492,307 C1494.3,313.5 1497,321.2 1500,328 C1503,334.8 1506.7,341.3 1510,348 C1513.3,354.7 1516.7,362 1520,368 C1523.3,374 1526.7,379 1530,384 C1533.3,389 1537,394.5 1540,398 C1543,401.5 1544.7,403.8 1548,405 C1551.3,406.2 1556.3,404.2 1560,405 C1563.7,405.8 1566.7,406.2 1570,410 C1573.3,413.8 1576.7,422 1580,428 C1583.3,434 1586.7,439.8 1590,446 C1593.3,452.2 1596.7,459.5 1600,465 C1603.3,470.5 1606.7,474.7 1610,479 C1613.3,483.3 1616.7,487.3 1620,491 C1623.3,494.7 1626.7,497.9 1630,501 C1633.3,504.1 1636.7,506.9 1640,509.5 C1643.3,512.1 1646.7,514.5 1650,516.5 C1653.3,518.5 1656,519.7 1660,521.5 C1664,523.3 1671.9,526.4 1674.3,527.4" fill="none" stroke="#F2282C" stroke-width="1.6" stroke-linejoin="round" stroke-linecap="round"/>
<path d="M1060,535.3 C1063.3,535.3 1074,535.8 1080,535.3 C1086,534.8 1092.1,533.3 1096,532.4 C1099.9,531.4 1101.1,530.7 1103.1,529.4 C1105.2,528.1 1106.5,527.2 1108.3,524.5 C1110.1,521.8 1111.9,517.8 1113.9,513.5 C1115.8,509.2 1118.1,503.4 1120.2,498.5 C1122.2,493.6 1124.2,489.4 1126,484 C1127.8,478.6 1129.4,472 1130.9,466 C1132.4,460 1133.6,454 1134.9,448 C1136.3,442 1137.7,436.3 1139,430 C1140.2,423.7 1141.4,417.3 1142.6,410 C1143.8,402.7 1144.5,394.9 1146,386.4 C1147.5,377.9 1149.6,368.2 1151.4,359.1 C1153.2,350 1154.8,339.8 1156.8,331.9 C1158.8,323.9 1161.4,318.2 1163.7,311.4 C1166,304.6 1168.2,297.7 1170.5,290.9 C1172.8,284.1 1175,277.3 1177.3,270.5 C1179.6,263.7 1181.8,257.4 1184.1,250 C1186.4,242.6 1188.7,234.7 1191,226 C1193.3,217.3 1195.5,207 1198,198 C1200.5,189 1203.3,179.1 1206,172 C1208.7,164.9 1211.3,160.6 1214,155.7 C1216.7,150.8 1219.1,146.6 1222.1,142.5 C1225.1,138.4 1228.5,134.8 1232.2,131.2 C1235.9,127.5 1240.5,123.1 1244.2,120.8 C1247.9,118.4 1251.2,117.3 1254.4,116.9 C1257.6,116.5 1260.2,116.5 1263.2,118.4 C1266.1,120.3 1269.1,123.9 1272.1,128.3 C1275.1,132.7 1278.1,138.5 1281.1,144.8 C1284,151.1 1287,158.5 1289.8,166 C1292.6,173.5 1295.1,180.3 1297.8,190 C1300.5,199.7 1303.4,212 1305.8,224 C1308.1,236 1309.7,249 1312.1,262 C1314.4,275 1317.4,290.2 1320,302 C1322.6,313.8 1324.9,323.7 1327.7,333 C1330.5,342.3 1333.7,349.5 1336.9,358 C1340,366.5 1343.5,376.7 1346.4,384 C1349.2,391.3 1352,397.8 1354,402 C1356,406.2 1356.9,407.4 1358.2,409.1 C1359.4,410.8 1359.9,412.7 1361.5,412.2 C1363,411.6 1365.2,409.8 1367.2,406 C1369.3,402.1 1371.7,393.9 1374,389.2 C1376.2,384.5 1378.2,381.2 1380.7,377.9 C1383.2,374.5 1386.2,370.6 1389,368.9 C1391.7,367.3 1394.4,368.6 1397.1,367.8 C1399.8,367.1 1402.5,366.8 1405.1,364.6 C1407.7,362.5 1410.3,360.8 1412.9,355.1 C1415.5,349.5 1418.2,338.4 1420.8,330.7 C1423.3,322.9 1425.9,314.7 1428.4,308.5 C1431,302.4 1433.5,297 1436.1,293.7 C1438.6,290.5 1441.2,289.6 1443.7,289.1 C1446.3,288.6 1449,290.3 1451.2,290.7 C1453.3,291.1 1454.9,292.4 1456.7,291.7 C1458.6,290.9 1460.3,288.6 1462.3,286.3 C1464.2,283.9 1466.5,279.5 1468.6,277.7 C1470.6,275.9 1472.4,274.9 1474.4,275.3 C1476.4,275.6 1478.4,276.6 1480.4,279.8 C1482.4,283 1484.4,289.2 1486.4,294.4 C1488.4,299.7 1490.1,305.5 1492.4,311.5 C1494.6,317.6 1497.1,324.3 1500,330.8 C1502.9,337.3 1506.7,344.2 1510,350.7 C1513.3,357.2 1516.7,363.9 1520,369.6 C1523.3,375.4 1526.7,380.4 1530,385.3 C1533.3,390.1 1537,395.4 1540,398.9 C1543,402.4 1544.7,405 1548,406.2 C1551.3,407.3 1556.3,405.1 1560,405.8 C1563.7,406.6 1566.7,407 1570,410.8 C1573.3,414.6 1576.7,422.6 1580,428.5 C1583.3,434.5 1586.7,440.3 1590,446.5 C1593.3,452.6 1596.7,459.8 1600,465.3 C1603.3,470.7 1606.7,474.8 1610,479.1 C1613.3,483.5 1616.7,487.5 1620,491.1 C1623.3,494.8 1626.7,498.1 1630,501.1 C1633.3,504.2 1636.7,507 1640,509.6 C1643.3,512.1 1646.7,514.6 1650,516.6 C1653.3,518.6 1656,519.8 1660,521.6 C1664,523.4 1671.9,526.5 1674.3,527.4" fill="none" stroke="#2266E0" stroke-width="1.6" stroke-linejoin="round" stroke-linecap="round"/>
<path d="M1060,535.1 C1063.3,535.1 1074,535.5 1080,535.1 C1086,534.6 1092.1,533.2 1096,532.2 C1099.9,531.3 1101.2,530.6 1103.3,529.4 C1105.4,528.1 1106.8,527.1 1108.6,524.5 C1110.4,521.9 1112.2,517.8 1114.2,513.5 C1116.2,509.2 1118.5,503.4 1120.5,498.5 C1122.5,493.6 1124.5,489.4 1126.3,484 C1128,478.6 1129.7,472 1131.1,466 C1132.6,460 1133.8,454 1135.1,448 C1136.4,442 1137.8,436.3 1139,430 C1140.3,423.7 1141.4,417.3 1142.6,410 C1143.8,402.7 1144.5,394.9 1146,386.4 C1147.5,377.9 1149.6,368.2 1151.4,359.1 C1153.2,350 1154.8,339.8 1156.8,331.9 C1158.8,323.9 1161.4,318.2 1163.7,311.4 C1166,304.6 1168.2,297.7 1170.5,290.9 C1172.8,284.1 1175,277.3 1177.3,270.5 C1179.6,263.7 1181.8,257.4 1184.1,250 C1186.4,242.6 1188.7,234.7 1191,226 C1193.3,217.3 1195.5,207 1198,198 C1200.5,189 1203.3,179.3 1206,172 C1208.7,164.7 1211.2,159.4 1214,154 C1216.8,148.6 1219.3,144.3 1222.5,139.8 C1225.7,135.2 1229.2,131 1233,126.8 C1236.8,122.5 1241.6,117.2 1245.5,114.2 C1249.4,111.3 1252.9,109.1 1256.5,108.9 C1260.1,108.7 1263.6,110.4 1267.1,112.9 C1270.5,115.4 1274,119.1 1277.2,124 C1280.5,129 1283.7,135.6 1286.7,142.6 C1289.7,149.6 1292.5,158.1 1295.1,166 C1297.7,173.9 1300,180.3 1302.5,190 C1305.1,199.7 1308,212 1310.5,224 C1312.9,236 1314.7,249 1317.1,262 C1319.6,275 1322.5,290.2 1325,302 C1327.6,313.8 1329.7,323.7 1332.2,333 C1334.8,342.3 1337.7,349.5 1340.6,358 C1343.4,366.5 1346.8,376.7 1349.5,384 C1352.2,391.3 1354.9,397.5 1356.8,402 C1358.8,406.5 1359.9,408.8 1361.3,410.8 C1362.8,412.8 1363.6,414.4 1365.3,414 C1367,413.6 1369.1,411.9 1371.3,408.4 C1373.4,405 1375.8,397.7 1378.1,393.5 C1380.3,389.3 1382.4,386.1 1384.9,383.1 C1387.3,380 1390.2,376.7 1392.8,375.2 C1395.5,373.7 1398.1,374.9 1400.7,374.1 C1403.3,373.2 1406.1,372.4 1408.7,370.1 C1411.3,367.7 1413.8,365.7 1416.4,360.2 C1419,354.6 1421.6,344.2 1424.1,336.8 C1426.6,329.4 1429.1,321.9 1431.5,316 C1434,310.1 1436.5,304.7 1439,301.3 C1441.4,297.8 1444,296.2 1446.4,295.1 C1448.7,294.1 1451.1,294.9 1453.1,294.8 C1455.1,294.7 1456.5,295.5 1458.2,294.4 C1459.9,293.4 1461.4,291 1463.3,288.6 C1465.1,286.2 1467.2,282 1469.1,280.2 C1471,278.3 1472.8,277.1 1474.7,277.5 C1476.6,277.8 1478.5,278.9 1480.5,282.1 C1482.5,285.2 1484.5,291.3 1486.5,296.5 C1488.5,301.7 1490.3,307.5 1492.5,313.4 C1494.8,319.4 1497.1,325.7 1500,332.1 C1502.9,338.6 1506.7,345.7 1510,352.1 C1513.3,358.5 1516.7,364.9 1520,370.6 C1523.3,376.2 1526.7,381.2 1530,386 C1533.3,390.9 1537,396 1540,399.5 C1543,403 1544.7,405.9 1548,407 C1551.3,408.2 1556.3,405.8 1560,406.5 C1563.7,407.3 1566.7,407.8 1570,411.5 C1573.3,415.3 1576.7,423.1 1580,429 C1583.3,434.9 1586.7,440.9 1590,447 C1593.3,453.1 1596.7,460.2 1600,465.6 C1603.3,471 1606.7,475 1610,479.3 C1613.3,483.6 1616.7,487.6 1620,491.3 C1623.3,495 1626.7,498.2 1630,501.3 C1633.3,504.3 1636.7,507.1 1640,509.6 C1643.3,512.2 1646.7,514.6 1650,516.6 C1653.3,518.6 1656,519.8 1660,521.6 C1664,523.4 1671.9,526.5 1674.3,527.5" fill="none" stroke="#2BA05C" stroke-width="1.6" stroke-linejoin="round" stroke-linecap="round"/>
<path d="M1060,534.9 C1063.3,534.9 1074,535.3 1080,534.9 C1086,534.4 1092.1,533 1096,532.1 C1099.9,531.1 1101.3,530.5 1103.4,529.3 C1105.6,528 1107,527.1 1108.9,524.5 C1110.7,521.9 1112.6,517.8 1114.6,513.5 C1116.6,509.2 1118.9,503.4 1120.9,498.5 C1122.9,493.6 1124.8,489.4 1126.6,484 C1128.3,478.6 1129.9,472 1131.3,466 C1132.8,460 1133.9,454 1135.2,448 C1136.5,442 1137.9,436.3 1139.1,430 C1140.3,423.7 1141.5,417.3 1142.6,410 C1143.7,402.7 1144.5,394.9 1146,386.4 C1147.5,377.9 1149.6,368.2 1151.4,359.1 C1153.2,350 1154.8,339.8 1156.8,331.9 C1158.8,323.9 1161.4,318.2 1163.7,311.4 C1166,304.6 1168.2,297.7 1170.5,290.9 C1172.8,284.1 1175,277.3 1177.3,270.5 C1179.6,263.7 1181.8,257.4 1184.1,250 C1186.4,242.6 1188.7,234.7 1191,226 C1193.3,217.3 1195.5,207 1198,198 C1200.5,189 1203.3,179.5 1206,172 C1208.7,164.5 1211.2,158.6 1214,153 C1216.8,147.3 1219.5,142.9 1222.8,138.1 C1226,133.2 1229.6,128.7 1233.5,124 C1237.4,119.4 1242.2,113.6 1246.3,110.2 C1250.3,106.9 1253.9,104.1 1257.8,104 C1261.7,103.8 1265.7,106.6 1269.5,109.5 C1273.3,112.4 1277,116.2 1280.4,121.5 C1283.8,126.8 1287.1,133.8 1290.1,141.2 C1293.1,148.7 1295.8,157.9 1298.3,166 C1300.9,174.1 1302.9,180.3 1305.4,190 C1307.9,199.7 1310.8,212 1313.3,224 C1315.7,236 1317.7,249 1320.2,262 C1322.6,275 1325.6,290.2 1328.1,302 C1330.5,313.8 1332.5,323.7 1335,333 C1337.5,342.3 1340.1,349.5 1342.9,358 C1345.7,366.5 1349,376.7 1351.6,384 C1354.3,391.3 1356.8,397.3 1358.9,402 C1360.9,406.7 1362.2,409.8 1363.8,412 C1365.4,414.3 1366.7,415.8 1368.5,415.5 C1370.2,415.2 1372.3,413.5 1374.4,410.4 C1376.6,407.3 1378.9,400.7 1381.2,396.8 C1383.4,392.9 1385.5,389.7 1387.9,386.9 C1390.3,384 1393,381 1395.5,379.6 C1398.1,378.1 1400.5,379.2 1403.1,378.2 C1405.7,377.3 1408.5,376.1 1411.1,373.6 C1413.7,371.2 1416.2,369 1418.7,363.5 C1421.3,358.1 1423.9,348 1426.4,340.9 C1428.8,333.8 1431.2,326.7 1433.6,320.9 C1436,315.2 1438.5,309.9 1440.9,306.3 C1443.3,302.7 1445.9,300.6 1448.1,299.2 C1450.4,297.7 1452.6,298.1 1454.5,297.7 C1456.3,297.2 1457.7,297.7 1459.2,296.5 C1460.8,295.3 1462.3,292.9 1464.1,290.5 C1465.8,288.2 1467.8,284.2 1469.6,282.4 C1471.5,280.6 1473.1,279.3 1474.9,279.6 C1476.8,280 1478.7,281.2 1480.6,284.3 C1482.6,287.4 1484.7,293.3 1486.7,298.5 C1488.7,303.6 1490.4,309.4 1492.7,315.2 C1494.9,321 1497.1,327 1500,333.3 C1502.9,339.7 1506.7,347 1510,353.4 C1513.3,359.7 1516.7,365.8 1520,371.4 C1523.3,376.9 1526.7,382 1530,386.7 C1533.3,391.5 1537,396.6 1540,400.1 C1543,403.6 1544.7,406.6 1548,407.8 C1551.3,409 1556.3,406.4 1560,407.1 C1563.7,407.8 1566.7,408.4 1570,412.1 C1573.3,415.8 1576.7,423.5 1580,429.4 C1583.3,435.3 1586.7,441.4 1590,447.4 C1593.3,453.5 1596.7,460.5 1600,465.9 C1603.3,471.2 1606.7,475.2 1610,479.4 C1613.3,483.7 1616.7,487.8 1620,491.4 C1623.3,495.1 1626.7,498.4 1630,501.4 C1633.3,504.5 1636.7,507.2 1640,509.7 C1643.3,512.3 1646.7,514.7 1650,516.7 C1653.3,518.7 1656,519.9 1660,521.7 C1664,523.5 1671.9,526.5 1674.3,527.5" fill="none" stroke="#B06EEA" stroke-width="1.6" stroke-linejoin="round" stroke-linecap="round"/>
<path d="M1060,534.6 C1063.3,534.6 1074,535.1 1080,534.6 C1086,534.2 1092.1,532.8 1096,531.9 C1099.9,531 1101.4,530.5 1103.6,529.2 C1105.8,528 1107.2,527.1 1109.1,524.5 C1111,521.9 1112.9,517.8 1114.9,513.5 C1116.9,509.2 1119.2,503.4 1121.2,498.5 C1123.2,493.6 1125.1,489.4 1126.8,484 C1128.6,478.6 1130.1,472 1131.6,466 C1133,460 1134.1,454 1135.4,448 C1136.6,442 1138,436.3 1139.2,430 C1140.4,423.7 1141.5,417.3 1142.6,410 C1143.7,402.7 1144.5,394.9 1146,386.4 C1147.5,377.9 1149.6,368.2 1151.4,359.1 C1153.2,350 1154.8,339.8 1156.8,331.9 C1158.8,323.9 1161.4,318.2 1163.7,311.4 C1166,304.6 1168.2,297.7 1170.5,290.9 C1172.8,284.1 1175,277.3 1177.3,270.5 C1179.6,263.7 1181.8,257.4 1184.1,250 C1186.4,242.6 1188.7,234.7 1191,226 C1193.3,217.3 1195.5,207 1198,198 C1200.5,189 1203.3,179.6 1206,172 C1208.7,164.4 1211.2,158 1214,152.2 C1216.8,146.3 1219.6,141.8 1223,136.8 C1226.3,131.7 1229.9,126.9 1233.9,121.9 C1237.9,117 1242.7,110.7 1246.9,107.1 C1251,103.5 1254.7,100.3 1258.8,100.2 C1262.9,100.1 1267.5,103.4 1271.6,106.6 C1275.7,109.7 1279.7,113.4 1283.4,119 C1287.1,124.5 1290.7,131.9 1293.8,139.8 C1297,147.6 1299.8,157.6 1302.3,166 C1304.9,174.4 1306.7,180.3 1309.2,190 C1311.6,199.7 1314.5,212 1317,224 C1319.5,236 1321.7,249 1324.2,262 C1326.7,275 1329.7,290.2 1332.1,302 C1334.5,313.8 1336.3,323.7 1338.6,333 C1340.9,342.3 1343.3,349.5 1345.9,358 C1348.4,366.5 1351.6,376.7 1354.2,384 C1356.7,391.3 1359.1,397.1 1361.1,402 C1363.2,406.9 1364.6,410.9 1366.4,413.4 C1368.1,415.9 1369.7,417.2 1371.6,417 C1373.5,416.8 1375.5,415.1 1377.6,412.3 C1379.7,409.5 1382,403.7 1384.3,400 C1386.5,396.4 1388.6,393.3 1390.9,390.6 C1393.2,387.9 1395.8,385.3 1398.3,383.9 C1400.7,382.5 1403,383.5 1405.5,382.4 C1408,381.3 1410.9,379.8 1413.5,377.2 C1416.1,374.7 1418.5,372.3 1421,366.9 C1423.6,361.5 1426.2,351.8 1428.6,344.9 C1431,338.1 1433.3,331.5 1435.7,325.9 C1438.1,320.3 1440.4,315.1 1442.8,311.4 C1445.2,307.6 1447.7,305 1449.9,303.2 C1452.1,301.5 1454.2,301.5 1455.9,300.7 C1457.7,300 1458.9,300.1 1460.5,298.8 C1462,297.4 1463.4,295 1465,292.8 C1466.7,290.5 1468.6,286.8 1470.3,285.1 C1472,283.4 1473.5,282.2 1475.3,282.6 C1477.1,282.9 1478.9,284.1 1480.8,287.2 C1482.7,290.3 1484.8,295.9 1486.8,301 C1488.8,306 1490.6,311.8 1492.8,317.5 C1495,323.1 1497.1,328.6 1500,334.8 C1502.9,341 1506.7,348.6 1510,354.9 C1513.3,361.2 1516.7,366.9 1520,372.4 C1523.3,377.8 1526.7,382.8 1530,387.5 C1533.3,392.3 1537,397.2 1540,400.7 C1543,404.2 1544.7,407.5 1548,408.6 C1551.3,409.8 1556.3,407.1 1560,407.8 C1563.7,408.5 1566.7,409.1 1570,412.8 C1573.3,416.5 1576.7,424 1580,429.9 C1583.3,435.7 1586.7,441.9 1590,447.9 C1593.3,454 1596.7,460.9 1600,466.1 C1603.3,471.4 1606.7,475.3 1610,479.6 C1613.3,483.8 1616.7,487.9 1620,491.6 C1623.3,495.2 1626.7,498.5 1630,501.6 C1633.3,504.6 1636.7,507.2 1640,509.8 C1643.3,512.3 1646.7,514.8 1650,516.8 C1653.3,518.8 1656,520 1660,521.8 C1664,523.6 1671.9,526.6 1674.3,527.5" fill="none" stroke="#CF9A14" stroke-width="1.6" stroke-linejoin="round" stroke-linecap="round"/>
<path d="M1060,534.4 C1063.3,534.4 1074,534.9 1080,534.4 C1086,534 1092,532.7 1096,531.8 C1100,530.9 1101.5,530.4 1103.7,529.1 C1106,527.9 1107.5,527.1 1109.4,524.5 C1111.4,521.9 1113.3,517.8 1115.3,513.5 C1117.3,509.2 1119.6,503.4 1121.6,498.5 C1123.6,493.6 1125.4,489.4 1127.1,484 C1128.8,478.6 1130.4,472 1131.8,466 C1133.2,460 1134.3,454 1135.5,448 C1136.8,442 1138.1,436.3 1139.3,430 C1140.4,423.7 1141.5,417.3 1142.6,410 C1143.7,402.7 1144.5,394.9 1146,386.4 C1147.5,377.9 1149.6,368.2 1151.4,359.1 C1153.2,350 1154.8,339.8 1156.8,331.9 C1158.8,323.9 1161.4,318.2 1163.7,311.4 C1166,304.6 1168.2,297.7 1170.5,290.9 C1172.8,284.1 1175,277.3 1177.3,270.5 C1179.6,263.7 1181.8,257.4 1184.1,250 C1186.4,242.6 1188.7,234.7 1191,226 C1193.3,217.3 1195.5,207 1198,198 C1200.5,189 1203.3,179.9 1206,172 C1208.7,164.1 1211.1,157 1214,150.8 C1216.9,144.6 1219.9,140 1223.3,134.6 C1226.7,129.1 1230.5,123.8 1234.6,118.3 C1238.7,112.9 1243.6,106 1247.9,101.8 C1252.2,97.7 1256,93.7 1260.5,93.7 C1265,93.7 1270.3,98.5 1274.8,102.1 C1279.3,105.8 1283.6,109.6 1287.6,115.6 C1291.5,121.5 1295.2,129.6 1298.3,138 C1301.5,146.4 1304.2,157.3 1306.6,166 C1309,174.7 1310.6,180.3 1313,190 C1315.3,199.7 1318.2,212 1320.8,224 C1323.3,236 1325.7,249 1328.3,262 C1330.8,275 1333.8,290.2 1336.1,302 C1338.4,313.8 1340.1,323.7 1342.3,333 C1344.5,342.3 1346.7,349.5 1349.3,358 C1351.8,366.5 1355,376.7 1357.6,384 C1360.2,391.3 1362.4,396.7 1364.6,402 C1366.9,407.3 1368.7,412.7 1370.9,415.7 C1373.1,418.7 1375.7,419.9 1377.9,420 C1380.1,420 1381.8,418.4 1383.9,416.1 C1385.9,413.9 1388.2,409.5 1390.3,406.4 C1392.4,403.4 1394.6,400.3 1396.7,397.9 C1398.9,395.5 1401.2,393.5 1403.4,392.2 C1405.6,390.9 1407.6,391.6 1410,390.2 C1412.4,388.8 1415.4,386.8 1418,384 C1420.6,381.2 1422.9,378.4 1425.4,373.2 C1427.9,368 1430.4,358.9 1432.8,352.6 C1435.2,346.3 1437.3,340.5 1439.6,335.2 C1441.9,329.9 1444.1,324.9 1446.4,320.8 C1448.7,316.7 1451.2,313.2 1453.2,310.8 C1455.2,308.4 1457,307.7 1458.6,306.3 C1460.2,305 1461.3,304.5 1462.6,302.9 C1464,301.3 1465.3,298.9 1466.8,296.8 C1468.2,294.6 1469.9,291.6 1471.4,290 C1472.9,288.5 1474.3,287.3 1475.9,287.7 C1477.5,288 1479.2,289.2 1481.1,292.1 C1483,294.9 1485.1,300.1 1487.1,304.9 C1489.1,309.7 1491,315.5 1493.1,320.8 C1495.3,326.2 1497.2,330.9 1500,336.9 C1502.8,343 1506.7,350.9 1510,357 C1513.3,363.1 1516.7,368.4 1520,373.7 C1523.3,378.9 1526.7,383.9 1530,388.6 C1533.3,393.2 1537,397.9 1540,401.5 C1543,405 1544.7,408.5 1548,409.7 C1551.3,410.8 1556.3,407.9 1560,408.5 C1563.7,409.2 1566.7,409.9 1570,413.5 C1573.3,417.2 1576.7,424.6 1580,430.4 C1583.3,436.2 1586.7,442.4 1590,448.4 C1593.3,454.4 1596.7,461.2 1600,466.4 C1603.3,471.6 1606.7,475.5 1610,479.7 C1613.3,483.9 1616.7,488 1620,491.7 C1623.3,495.4 1626.7,498.7 1630,501.7 C1633.3,504.7 1636.7,507.3 1640,509.9 C1643.3,512.4 1646.7,514.9 1650,516.9 C1653.3,518.9 1656,520.1 1660,521.9 C1664,523.6 1671.9,526.6 1674.3,527.5" fill="none" stroke="#18C6D2" stroke-width="1.6" stroke-linejoin="round" stroke-linecap="round"/>
<path d="M1060,534.2 C1063.3,534.2 1074,534.6 1080,534.2 C1086,533.8 1092,532.5 1096,531.6 C1100,530.8 1101.6,530.3 1103.9,529.1 C1106.1,527.9 1107.8,527.1 1109.7,524.5 C1111.7,521.9 1113.6,517.8 1115.6,513.5 C1117.7,509.2 1120,503.4 1121.9,498.5 C1123.9,493.6 1125.7,489.4 1127.4,484 C1129.1,478.6 1130.6,472 1132,466 C1133.4,460 1134.4,454 1135.7,448 C1136.9,442 1138.2,436.3 1139.3,430 C1140.5,423.7 1141.5,417.3 1142.6,410 C1143.7,402.7 1144.5,394.9 1146,386.4 C1147.5,377.9 1149.6,368.2 1151.4,359.1 C1153.2,350 1154.8,339.8 1156.8,331.9 C1158.8,323.9 1161.4,318.2 1163.7,311.4 C1166,304.6 1168.2,297.7 1170.5,290.9 C1172.8,284.1 1175,277.3 1177.3,270.5 C1179.6,263.7 1181.8,257.4 1184.1,250 C1186.4,242.6 1188.7,234.7 1191,226 C1193.3,217.3 1195.5,207 1198,198 C1200.5,189 1203.3,180.1 1206,172 C1208.7,163.9 1211.1,156 1214,149.4 C1216.9,142.7 1220.1,138 1223.7,132.2 C1227.2,126.4 1231.1,120.6 1235.3,114.6 C1239.5,108.6 1244.5,100.9 1249,96.3 C1253.5,91.7 1257.4,86.7 1262.3,86.9 C1267.2,87 1273.3,92.9 1278.4,97 C1283.5,101.1 1288.4,104.9 1292.7,111.3 C1297.1,117.7 1301.1,126.4 1304.5,135.6 C1307.9,144.7 1310.6,156.9 1313,166 C1315.4,175.1 1316.7,180.3 1319,190 C1321.2,199.7 1324.1,212 1326.7,224 C1329.3,236 1332.1,249 1334.7,262 C1337.3,275 1340.2,290.2 1342.5,302 C1344.7,313.8 1346.1,323.7 1348.1,333 C1350.1,342.3 1352,349.5 1354.4,358 C1356.8,366.5 1360,376.7 1362.5,384 C1365,391.3 1367,396.2 1369.4,402 C1371.8,407.8 1374.1,415.2 1376.9,418.8 C1379.7,422.5 1383.5,423.4 1386,423.8 C1388.4,424.1 1389.8,422.5 1391.7,420.9 C1393.7,419.4 1395.7,416.6 1397.7,414.3 C1399.7,411.9 1401.8,408.7 1403.7,406.6 C1405.7,404.6 1407.5,403.1 1409.4,401.8 C1411.3,400.5 1412.8,400.7 1415.1,399 C1417.4,397.3 1420.6,394.8 1423.1,391.6 C1425.6,388.5 1427.9,385.4 1430.3,380.3 C1432.7,375.3 1435.3,367 1437.6,361.3 C1439.8,355.5 1441.9,350.7 1444,345.7 C1446.2,340.8 1448.3,335.9 1450.5,331.5 C1452.6,327.1 1455.1,322.5 1456.9,319.4 C1458.8,316.3 1460.4,315 1461.8,313.1 C1463.2,311.2 1464.2,310 1465.4,308.2 C1466.6,306.4 1467.8,304.1 1469.1,302.2 C1470.4,300.4 1471.7,298.2 1473,297 C1474.3,295.9 1475.5,294.9 1476.9,295.3 C1478.3,295.7 1479.7,296.8 1481.5,299.4 C1483.3,302 1485.5,306.5 1487.5,310.9 C1489.5,315.4 1491.4,321.1 1493.5,326 C1495.6,330.9 1497.3,334.5 1500,340.2 C1502.7,345.9 1506.7,354.3 1510,360.2 C1513.3,366.2 1516.7,370.7 1520,375.7 C1523.3,380.7 1526.7,385.7 1530,390.2 C1533.3,394.7 1537,399.1 1540,402.6 C1543,406.2 1544.7,410 1548,411.2 C1551.3,412.4 1556.3,409.1 1560,409.7 C1563.7,410.3 1566.7,411.1 1570,414.7 C1573.3,418.3 1576.7,425.4 1580,431.1 C1583.3,436.9 1586.7,443.2 1590,449.2 C1593.3,455.1 1596.7,461.6 1600,466.7 C1603.3,471.8 1606.7,475.7 1610,479.9 C1613.3,484 1616.7,488.2 1620,491.9 C1623.3,495.5 1626.7,498.8 1630,501.9 C1633.3,504.9 1636.7,507.4 1640,509.9 C1643.3,512.4 1646.7,514.9 1650,516.9 C1653.3,518.9 1656,520.2 1660,521.9 C1664,523.7 1671.9,526.6 1674.3,527.6" fill="none" stroke="#7F4A4A" stroke-width="1.6" stroke-linejoin="round" stroke-linecap="round"/>
<path d="M1060,534 C1063.3,534 1074,534.4 1080,534 C1086,533.6 1092,532.3 1096,531.5 C1100,530.7 1101.7,530.2 1104,529 C1106.3,527.8 1108,527.1 1110,524.5 C1112,521.9 1114,517.8 1116,513.5 C1118,509.2 1120.3,503.4 1122.3,498.5 C1124.2,493.6 1126,489.4 1127.7,484 C1129.4,478.6 1130.9,472 1132.2,466 C1133.5,460 1134.6,454 1135.8,448 C1137,442 1138.3,436.3 1139.4,430 C1140.5,423.7 1141.5,417.3 1142.6,410 C1143.7,402.7 1144.5,394.9 1146,386.4 C1147.5,377.9 1149.6,368.2 1151.4,359.1 C1153.2,350 1154.8,339.8 1156.8,331.9 C1158.8,323.9 1161.4,318.2 1163.7,311.4 C1166,304.6 1168.2,297.7 1170.5,290.9 C1172.8,284.1 1175,277.3 1177.3,270.5 C1179.6,263.7 1181.8,257.4 1184.1,250 C1186.4,242.6 1188.7,234.7 1191,226 C1193.3,217.3 1195.5,207 1198,198 C1200.5,189 1203.3,180.3 1206,172 C1208.7,163.7 1211,155 1214,148 C1217,141 1220.3,136.2 1224,130 C1227.7,123.8 1231.7,117.5 1236,111 C1240.3,104.5 1245.3,96.1 1250,91 C1254.7,85.9 1258.7,80.2 1264,80.4 C1269.3,80.6 1276.3,87.6 1282,92 C1287.7,96.4 1293.2,100.2 1298,107 C1302.8,113.8 1307.3,123.2 1311,133 C1314.7,142.8 1317.6,156.5 1320,166 C1322.4,175.5 1323.4,180.3 1325.6,190 C1327.8,199.7 1330.6,212 1333.3,224 C1336,236 1339.1,249 1341.8,262 C1344.5,275 1347.4,290.2 1349.5,302 C1351.6,313.8 1352.8,323.7 1354.5,333 C1356.2,342.3 1357.8,349.5 1360,358 C1362.2,366.5 1365.2,376.7 1367.6,384 C1370,391.3 1371.8,395.7 1374.4,402 C1377,408.3 1379.7,417.7 1383,422 C1386.3,426.3 1391.2,426.9 1394,427.6 C1396.8,428.3 1398,426.8 1400,426 C1402,425.2 1404,424.5 1406,423 C1408,421.5 1410.2,418.5 1412,417 C1413.8,415.5 1415.3,415 1417,414 C1418.7,413 1419.8,413 1422,411 C1424.2,409 1427.5,405.5 1430,402 C1432.5,398.5 1434.7,394.8 1437,390 C1439.3,385.2 1441.8,378 1444,373 C1446.2,368 1448,364.5 1450,360 C1452,355.5 1454,350.8 1456,346 C1458,341.2 1460.3,335 1462,331 C1463.7,327 1464.8,324.7 1466,322 C1467.2,319.3 1468,317.2 1469,315 C1470,312.8 1471,310.6 1472,309 C1473,307.4 1474,306.3 1475,305.5 C1476,304.7 1476.8,304 1478,304.4 C1479.2,304.8 1480.3,305.7 1482,308 C1483.7,310.3 1486,314 1488,318 C1490,322 1492,327.7 1494,332 C1496,336.3 1497.3,338.7 1500,344 C1502.7,349.3 1506.7,358.3 1510,364 C1513.3,369.7 1516.7,373.3 1520,378 C1523.3,382.7 1526.7,387.7 1530,392 C1533.3,396.3 1537,400.5 1540,404 C1543,407.5 1544.7,411.8 1548,413 C1551.3,414.2 1556.3,410.5 1560,411 C1563.7,411.5 1566.7,412.5 1570,416 C1573.3,419.5 1576.7,426.3 1580,432 C1583.3,437.7 1586.7,444.2 1590,450 C1593.3,455.8 1596.7,462 1600,467 C1603.3,472 1606.7,475.8 1610,480 C1613.3,484.2 1616.7,488.3 1620,492 C1623.3,495.7 1626.7,499 1630,502 C1633.3,505 1636.7,507.5 1640,510 C1643.3,512.5 1646.7,515 1650,517 C1653.3,519 1656,520.2 1660,522 C1664,523.8 1671.9,526.7 1674.3,527.6" fill="none" stroke="#8E8E1C" stroke-width="1.6" stroke-linejoin="round" stroke-linecap="round"/>
<rect x="1575.5" y="27.9" width="171.5" height="365.1" fill="#fff" stroke="#555" stroke-width="1.6"/>
<path d="M1579.3,50 H1652" stroke="#333333" stroke-width="2"/>
<text x="1660.8" y="61.4" font-size="32.4" text-anchor="start" font-family='"Liberation Sans", Arial, sans-serif'>1.000</text>
<path d="M1579.3,90 H1652" stroke="#F2282C" stroke-width="2"/>
<text x="1660.8" y="101.4" font-size="32.4" text-anchor="start" font-family='"Liberation Sans", Arial, sans-serif'>1.333</text>
<path d="M1579.3,129.9 H1652" stroke="#2266E0" stroke-width="2"/>
<text x="1660.8" y="141.3" font-size="32.4" text-anchor="start" font-family='"Liberation Sans", Arial, sans-serif'>1.344</text>
<path d="M1579.3,169.9 H1652" stroke="#2BA05C" stroke-width="2"/>
<text x="1660.8" y="181.3" font-size="32.4" text-anchor="start" font-family='"Liberation Sans", Arial, sans-serif'>1.355</text>
<path d="M1579.3,209.8 H1652" stroke="#B06EEA" stroke-width="2"/>
<text x="1660.8" y="221.2" font-size="32.4" text-anchor="start" font-family='"Liberation Sans", Arial, sans-serif'>1.363</text>
<path d="M1579.3,249.8 H1652" stroke="#CF9A14" stroke-width="2"/>
<text x="1660.8" y="261.1" font-size="32.4" text-anchor="start" font-family='"Liberation Sans", Arial, sans-serif'>1.372</text>
<path d="M1579.3,289.7 H1652" stroke="#18C6D2" stroke-width="2"/>
<text x="1660.8" y="301.1" font-size="32.4" text-anchor="start" font-family='"Liberation Sans", Arial, sans-serif'>1.384</text>
<path d="M1579.3,329.7 H1652" stroke="#7F4A4A" stroke-width="2"/>
<text x="1660.8" y="341.1" font-size="32.4" text-anchor="start" font-family='"Liberation Sans", Arial, sans-serif'>1.402</text>
<path d="M1579.3,369.6 H1652" stroke="#8E8E1C" stroke-width="2"/>
<text x="1660.8" y="381" font-size="32.4" text-anchor="start" font-family='"Liberation Sans", Arial, sans-serif'>1.411</text>
<text x="1074.6" y="53" font-size="32.9" text-anchor="start" font-family='"Liberation Sans", Arial, sans-serif'>p = 1.0 Pa, t = 29 min</text>
<path d="M1336,414 L1384.2,438.1" stroke="#000" stroke-width="2"/>
<path d="M1394,443 L1380.3,441.3 L1384.4,433.1 Z" fill="#000"/>
<text x="1337.6" y="471" font-size="32" font-family='"Liberation Serif", "Times New Roman", serif'>&#955;<tspan font-size="23" dy="9.7" font-family='"Liberation Sans", Arial, sans-serif'>R</tspan></text>
<text transform="translate(928.7,292.5) rotate(-90)" x="0" y="0" font-size="32.3" font-weight="bold" text-anchor="middle" font-family='"Liberation Sans", Arial, sans-serif'>T [a.u.]</text>
<text x="1322" y="638.5" font-size="33" font-family='"Liberation Serif", "Times New Roman", serif'>&#955;<tspan font-weight="bold" font-family='"Liberation Sans", Arial, sans-serif'> [nm]</tspan></text>
<text x="919.5" y="649.8" font-size="39.6" text-anchor="start" font-family='"Liberation Sans", Arial, sans-serif'>(B)</text>
</g>
<g id="panelC">
<defs><clipPath id="clipC"><rect x="135" y="700" width="620" height="577.5"/></clipPath></defs>
<g stroke="#000" stroke-width="2" fill="none">
<path d="M135.2,782.2 V1278"/>
<path d="M134.2,1276.9 H748.5"/>
<path d="M125.2,1276.9 H135.2"/>
<path d="M130.2,1246 H135.2"/>
<path d="M125.2,1215.1 H135.2"/>
<path d="M130.2,1184.2 H135.2"/>
<path d="M125.2,1153.3 H135.2"/>
<path d="M130.2,1122.4 H135.2"/>
<path d="M125.2,1091.5 H135.2"/>
<path d="M130.2,1060.6 H135.2"/>
<path d="M125.2,1029.7 H135.2"/>
<path d="M130.2,998.8 H135.2"/>
<path d="M125.2,967.9 H135.2"/>
<path d="M130.2,937 H135.2"/>
<path d="M125.2,906.1 H135.2"/>
<path d="M130.2,875.2 H135.2"/>
<path d="M125.2,844.3 H135.2"/>
<path d="M130.2,813.4 H135.2"/>
<path d="M125.2,782.5 H135.2"/>
<path d="M135.2,1276.9 V1281.9"/>
<path d="M196.6,1276.9 V1286.9"/>
<path d="M258,1276.9 V1281.9"/>
<path d="M319.3,1276.9 V1286.9"/>
<path d="M380.7,1276.9 V1281.9"/>
<path d="M442.1,1276.9 V1286.9"/>
<path d="M503.5,1276.9 V1281.9"/>
<path d="M564.8,1276.9 V1286.9"/>
<path d="M626.2,1276.9 V1281.9"/>
<path d="M687.6,1276.9 V1286.9"/>
<path d="M749,1276.9 V1281.9"/>
</g>
<text x="119" y="1287.4" font-size="33" text-anchor="end" font-family='"Liberation Sans", Arial, sans-serif'>0</text>
<text x="119" y="1225.6" font-size="33" text-anchor="end" font-family='"Liberation Sans", Arial, sans-serif'>5</text>
<text x="119" y="1163.8" font-size="33" text-anchor="end" font-family='"Liberation Sans", Arial, sans-serif'>10</text>
<text x="119" y="1102" font-size="33" text-anchor="end" font-family='"Liberation Sans", Arial, sans-serif'>15</text>
<text x="119" y="1040.2" font-size="33" text-anchor="end" font-family='"Liberation Sans", Arial, sans-serif'>20</text>
<text x="119" y="978.4" font-size="33" text-anchor="end" font-family='"Liberation Sans", Arial, sans-serif'>25</text>
<text x="119" y="916.6" font-size="33" text-anchor="end" font-family='"Liberation Sans", Arial, sans-serif'>30</text>
<text x="119" y="854.8" font-size="33" text-anchor="end" font-family='"Liberation Sans", Arial, sans-serif'>35</text>
<text x="119" y="793" font-size="33" text-anchor="end" font-family='"Liberation Sans", Arial, sans-serif'>40</text>
<text x="197.6" y="1319.2" font-size="33" text-anchor="middle" font-family='"Liberation Sans", Arial, sans-serif'>1.34</text>
<text x="320.3" y="1319.2" font-size="33" text-anchor="middle" font-family='"Liberation Sans", Arial, sans-serif'>1.36</text>
<text x="443.1" y="1319.2" font-size="33" text-anchor="middle" font-family='"Liberation Sans", Arial, sans-serif'>1.38</text>
<text x="565.8" y="1319.2" font-size="33" text-anchor="middle" font-family='"Liberation Sans", Arial, sans-serif'>1.40</text>
<text x="688.6" y="1319.2" font-size="33" text-anchor="middle" font-family='"Liberation Sans", Arial, sans-serif'>1.42</text>
<g clip-path="url(#clipC)">
<path d="M150,1275 L230.6,1261.5 L296.6,1240 L386.7,1215 L452.3,1197.5 L520,1180.5 L586.5,1164 L655.6,1144.8" fill="none" stroke="#505050" stroke-width="1.15"/>
<path d="M152,1277 L230.6,1272.2 L296.6,1247.3 L386.7,1213 L452.3,1183 L520,1153 L587.2,1119.7 L656,1097.3" fill="none" stroke="#EE4042" stroke-width="1.15"/>
<path d="M150,1275.5 L230.6,1265 L296.6,1225 L386.7,1187.4 L452.3,1146.8 L520.3,1106 L587.2,1053.3 L655.9,990" fill="none" stroke="#34A868" stroke-width="1.15"/>
<path d="M154,1274.5 L220,1238 L288.2,1190.5 L339.7,1153.7 L396.1,1111.8 L467.9,1065 L577.5,969 L631.1,893" fill="none" stroke="#AE78E4" stroke-width="1.15"/>
<path d="M155,1275 L219.5,1226.9 L288.2,1169 L339.2,1128 L395.5,1078.7 L466.8,1013.8 L576.3,912.2 L630.6,835.7" fill="none" stroke="#D6A326" stroke-width="1.15"/>
<rect x="144.6" y="1269.6" width="10.8" height="10.8" fill="#4B4B4B"/>
<rect x="225.2" y="1256.1" width="10.8" height="10.8" fill="#4B4B4B"/>
<rect x="291.2" y="1234.6" width="10.8" height="10.8" fill="#4B4B4B"/>
<rect x="381.3" y="1209.6" width="10.8" height="10.8" fill="#4B4B4B"/>
<rect x="446.9" y="1192.1" width="10.8" height="10.8" fill="#4B4B4B"/>
<rect x="514.6" y="1175.1" width="10.8" height="10.8" fill="#4B4B4B"/>
<rect x="581.1" y="1158.6" width="10.8" height="10.8" fill="#4B4B4B"/>
<rect x="650.2" y="1139.4" width="10.8" height="10.8" fill="#4B4B4B"/>
<circle cx="152" cy="1277" r="6" fill="#EE3A3C"/>
<circle cx="230.6" cy="1272.2" r="6" fill="#EE3A3C"/>
<circle cx="296.6" cy="1247.3" r="6" fill="#EE3A3C"/>
<circle cx="386.7" cy="1213" r="6" fill="#EE3A3C"/>
<circle cx="452.3" cy="1183" r="6" fill="#EE3A3C"/>
<circle cx="520" cy="1153" r="6" fill="#EE3A3C"/>
<circle cx="587.2" cy="1119.7" r="6" fill="#EE3A3C"/>
<circle cx="656" cy="1097.3" r="6" fill="#EE3A3C"/>
<path d="M142.8,1270.5 L157.2,1270.5 L150,1283.5 Z" fill="#2DA262"/>
<path d="M223.4,1260 L237.8,1260 L230.6,1273 Z" fill="#2DA262"/>
<path d="M289.4,1220 L303.8,1220 L296.6,1233 Z" fill="#2DA262"/>
<path d="M379.5,1182.4 L393.9,1182.4 L386.7,1195.4 Z" fill="#2DA262"/>
<path d="M445.1,1141.8 L459.5,1141.8 L452.3,1154.8 Z" fill="#2DA262"/>
<path d="M513.1,1101 L527.5,1101 L520.3,1114 Z" fill="#2DA262"/>
<path d="M580,1048.3 L594.4,1048.3 L587.2,1061.3 Z" fill="#2DA262"/>
<path d="M648.7,985 L663.1,985 L655.9,998 Z" fill="#2DA262"/>
<path d="M154,1267.1 L161.4,1274.5 L154,1281.9 L146.6,1274.5 Z" fill="#A870DE"/>
<path d="M220,1230.6 L227.4,1238 L220,1245.4 L212.6,1238 Z" fill="#A870DE"/>
<path d="M288.2,1183.1 L295.6,1190.5 L288.2,1197.9 L280.8,1190.5 Z" fill="#A870DE"/>
<path d="M339.7,1146.3 L347.1,1153.7 L339.7,1161.1 L332.3,1153.7 Z" fill="#A870DE"/>
<path d="M396.1,1104.4 L403.5,1111.8 L396.1,1119.2 L388.7,1111.8 Z" fill="#A870DE"/>
<path d="M467.9,1057.6 L475.3,1065 L467.9,1072.4 L460.5,1065 Z" fill="#A870DE"/>
<path d="M577.5,961.6 L584.9,969 L577.5,976.4 L570.1,969 Z" fill="#A870DE"/>
<path d="M631.1,885.6 L638.5,893 L631.1,900.4 L623.7,893 Z" fill="#A870DE"/>
<path d="M160,1267.8 L160,1282.2 L147,1275 Z" fill="#C8960F"/>
<path d="M224.5,1219.7 L224.5,1234.1 L211.5,1226.9 Z" fill="#C8960F"/>
<path d="M293.2,1161.8 L293.2,1176.2 L280.2,1169 Z" fill="#C8960F"/>
<path d="M344.2,1120.8 L344.2,1135.2 L331.2,1128 Z" fill="#C8960F"/>
<path d="M400.5,1071.5 L400.5,1085.9 L387.5,1078.7 Z" fill="#C8960F"/>
<path d="M471.8,1006.6 L471.8,1021 L458.8,1013.8 Z" fill="#C8960F"/>
<path d="M581.3,905 L581.3,919.4 L568.3,912.2 Z" fill="#C8960F"/>
<path d="M635.6,828.5 L635.6,842.9 L622.6,835.7 Z" fill="#C8960F"/>
</g>
<rect x="143.7" y="780.5" width="319.9" height="204.5" fill="#fff" stroke="#555" stroke-width="1.6"/>
<path d="M148,803.4 H219.7" stroke="#505050" stroke-width="1.15"/>
<rect x="178.8" y="798" width="10.8" height="10.8" fill="#4B4B4B"/>
<text x="229.9" y="814.2" font-size="32.6" text-anchor="start" font-family='"Liberation Sans", Arial, sans-serif'>0.1 Pa, 100 min</text>
<path d="M148,843.1 H219.7" stroke="#EE4042" stroke-width="1.15"/>
<circle cx="184.2" cy="843.1" r="6" fill="#EE3A3C"/>
<text x="229.9" y="853.9" font-size="32.6" text-anchor="start" font-family='"Liberation Sans", Arial, sans-serif'>0.2 Pa, 70 min</text>
<path d="M148,882.8 H219.7" stroke="#34A868" stroke-width="1.15"/>
<path d="M177,877.8 L191.4,877.8 L184.2,890.8 Z" fill="#2DA262"/>
<text x="229.9" y="893.6" font-size="32.6" text-anchor="start" font-family='"Liberation Sans", Arial, sans-serif'>0.4 Pa, 50 min</text>
<path d="M148,922.5 H219.7" stroke="#AE78E4" stroke-width="1.15"/>
<path d="M184.2,915.1 L191.6,922.5 L184.2,929.9 L176.8,922.5 Z" fill="#A870DE"/>
<text x="229.9" y="933.3" font-size="32.6" text-anchor="start" font-family='"Liberation Sans", Arial, sans-serif'>0.5 Pa, 60 min</text>
<path d="M148,962.2 H219.7" stroke="#D6A326" stroke-width="1.15"/>
<path d="M189.2,955 L189.2,969.4 L176.2,962.2 Z" fill="#C8960F"/>
<text x="229.9" y="973" font-size="32.6" text-anchor="start" font-family='"Liberation Sans", Arial, sans-serif'>1.0 Pa, 29 min</text>
<text x="648.3" y="856" font-size="32.7" text-anchor="start" font-family='"Liberation Sans", Arial, sans-serif'>430 [nm/RIU]</text>
<text x="648.3" y="918.2" font-size="32.7" text-anchor="start" font-family='"Liberation Sans", Arial, sans-serif'>360 [nm/RIU]</text>
<text x="648.3" y="1041.3" font-size="32.7" text-anchor="start" font-family='"Liberation Sans", Arial, sans-serif'>250 [nm/RIU]</text>
<text x="648.3" y="1133.2" font-size="32.7" text-anchor="start" font-family='"Liberation Sans", Arial, sans-serif'>180 [nm/RIU]</text>
<text x="648.3" y="1192.4" font-size="32.7" text-anchor="start" font-family='"Liberation Sans", Arial, sans-serif'>130 [nm/RIU]</text>
<text transform="translate(47.6,1032.8) rotate(-90)" x="0" y="0" font-size="33" text-anchor="middle" font-family='"Liberation Serif", "Times New Roman", serif'>&#955;<tspan font-size="22" font-weight="bold" dy="8.8" font-family='"Liberation Sans", Arial, sans-serif'>R</tspan><tspan dy="-8.8" font-family='"Liberation Sans", Arial, sans-serif'>&#8722;</tspan><tspan font-family='"Liberation Serif", "Times New Roman", serif'>&#955;</tspan><tspan font-size="22" font-weight="bold" dy="8.8" font-family='"Liberation Sans", Arial, sans-serif'>R0</tspan><tspan dy="-8.8" font-weight="bold" font-family='"Liberation Sans", Arial, sans-serif'> [nm]</tspan></text>
<text x="373.5" y="1372" font-size="33" font-weight="bold" font-family='"Liberation Sans", Arial, sans-serif'>n<tspan font-size="22" dy="7.8">ext</tspan><tspan dy="-7.8"> [RIU]</tspan></text>
<text x="16" y="1378" font-size="38" text-anchor="start" font-family='"Liberation Sans", Arial, sans-serif'>(C)</text>
</g>
<g id="panelD">
<g stroke="#000" stroke-width="2" fill="none">
<path d="M1047,714.5 V1268"/>
<path d="M1046,1267 H1734.8"/>
<path d="M1042,1267.2 H1047"/>
<path d="M1036,1212 H1047"/>
<path d="M1042,1156.8 H1047"/>
<path d="M1036,1101.7 H1047"/>
<path d="M1042,1046.5 H1047"/>
<path d="M1036,991.4 H1047"/>
<path d="M1042,936.2 H1047"/>
<path d="M1036,881.1 H1047"/>
<path d="M1042,826 H1047"/>
<path d="M1036,770.8 H1047"/>
<path d="M1042,715.7 H1047"/>
<path d="M1047,1267 V1274.4"/>
<path d="M1109.3,1267 V1272.4"/>
<path d="M1171.7,1267 V1274.4"/>
<path d="M1234,1267 V1272.4"/>
<path d="M1296.4,1267 V1274.4"/>
<path d="M1358.8,1267 V1272.4"/>
<path d="M1421.1,1267 V1274.4"/>
<path d="M1483.5,1267 V1272.4"/>
<path d="M1545.8,1267 V1274.4"/>
<path d="M1608.2,1267 V1272.4"/>
<path d="M1670.5,1267 V1274.4"/>
</g>
<text x="1029.3" y="1222.3" font-size="37" text-anchor="end" font-family='"Liberation Sans", Arial, sans-serif'>0</text>
<text x="1029.3" y="1112" font-size="37" text-anchor="end" font-family='"Liberation Sans", Arial, sans-serif'>20</text>
<text x="1029.3" y="1001.7" font-size="37" text-anchor="end" font-family='"Liberation Sans", Arial, sans-serif'>40</text>
<text x="1029.3" y="891.4" font-size="37" text-anchor="end" font-family='"Liberation Sans", Arial, sans-serif'>60</text>
<text x="1029.3" y="781.1" font-size="37" text-anchor="end" font-family='"Liberation Sans", Arial, sans-serif'>80</text>
<text x="1029.5" y="1311" font-size="37" text-anchor="middle" font-family='"Liberation Sans", Arial, sans-serif'>0</text>
<text x="1184" y="1311" font-size="37" text-anchor="middle" font-family='"Liberation Sans", Arial, sans-serif'>0.2</text>
<text x="1322.9" y="1311" font-size="37" text-anchor="middle" font-family='"Liberation Sans", Arial, sans-serif'>0.4</text>
<text x="1462.1" y="1311" font-size="37" text-anchor="middle" font-family='"Liberation Sans", Arial, sans-serif'>0.6</text>
<text x="1600.7" y="1311" font-size="37" text-anchor="middle" font-family='"Liberation Sans", Arial, sans-serif'>0.8</text>
<text x="1725.3" y="1311" font-size="37" text-anchor="middle" font-family='"Liberation Sans", Arial, sans-serif'>1</text>
<path d="M1109,1211 L1171.6,1209 L1234.4,1199 L1296.6,1165 L1358.5,1090.5 L1670.2,770" fill="none" stroke="#444" stroke-width="1.3" stroke-dasharray="6 5"/>
<rect x="1103" y="1205" width="12" height="12" fill="#000"/>
<rect x="1165.6" y="1203" width="12" height="12" fill="#000"/>
<rect x="1228.4" y="1193" width="12" height="12" fill="#000"/>
<rect x="1290.6" y="1159" width="12" height="12" fill="#000"/>
<rect x="1352.5" y="1084.5" width="12" height="12" fill="#000"/>
<rect x="1664.2" y="764" width="12" height="12" fill="#000"/>
<text transform="translate(950.8,990.9) rotate(-90)" x="0" y="0" font-size="36.2" font-weight="bold" text-anchor="middle" font-family='"Liberation Sans", Arial, sans-serif'>R [k<tspan font-weight="normal" font-size="39" font-family='"Liberation Serif", "Times New Roman", serif'>&#937;</tspan>]</text>
<text x="1340.3" y="1370.6" font-size="36.4" font-weight="bold" font-family='"Liberation Sans", Arial, sans-serif'>p [Pa]</text>
<text x="930.3" y="1380.8" font-size="39.2" text-anchor="start" font-family='"Liberation Sans", Arial, sans-serif'>(D)</text>
</g>
</svg>
</body></html>
